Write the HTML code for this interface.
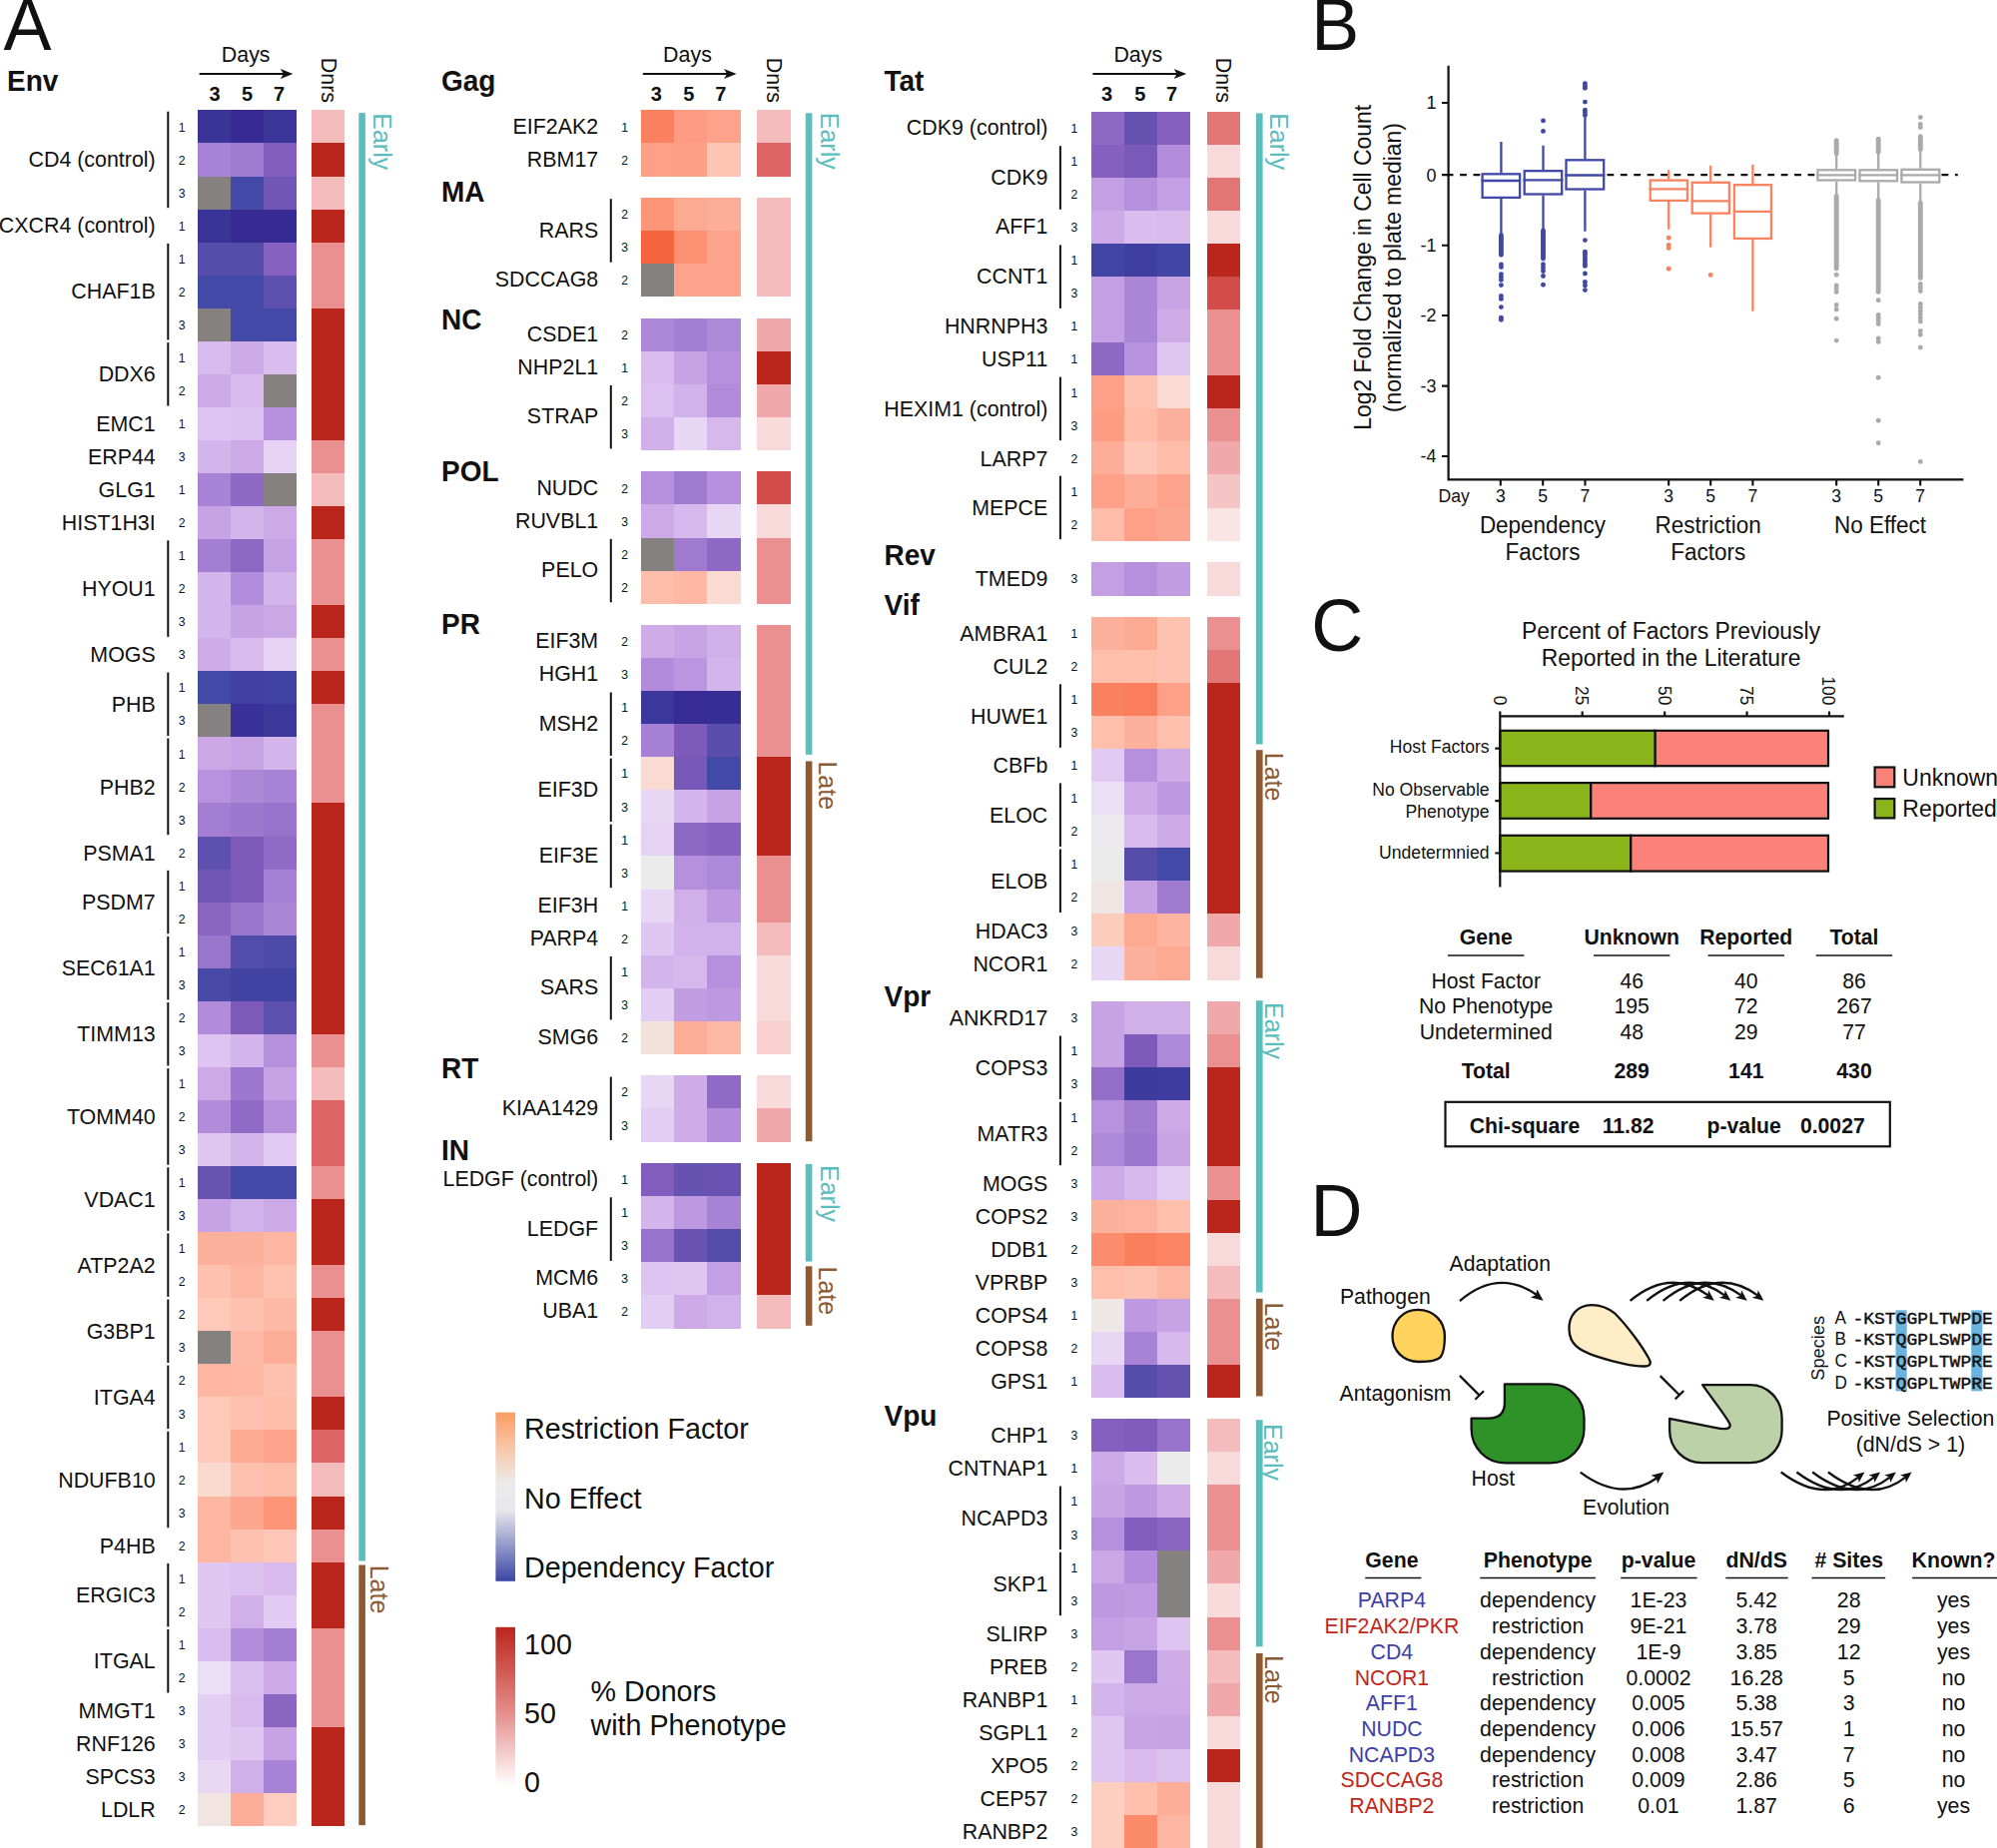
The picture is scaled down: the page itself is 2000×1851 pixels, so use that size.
<!DOCTYPE html>
<html><head><meta charset="utf-8"><title>Figure</title>
<style>
html,body{margin:0;padding:0;background:#fff}
body{width:2000px;height:1851px;overflow:hidden}
svg{display:block;font-family:"Liberation Sans",Arial,Helvetica,sans-serif;fill:#111}
svg text{fill:#111}
</style></head><body>
<svg width="2000" height="1851" viewBox="0 0 2000 1851">
<rect width="2000" height="1851" fill="#fff"/>
<text transform="matrix(1 0 0 1.035 0 -1.75)" x="3.5" y="50.0" font-size="72">A</text>
<text transform="matrix(1 0 0 1.035 0 -3.20)" x="7.0" y="91.4" font-size="28" font-weight="bold">Env</text>
<text transform="matrix(1 0 0 1.035 0 -5.83)" x="155.7" y="166.6" font-size="21.4" text-anchor="end">CD4 (control)</text>
<path d="M168.3 111.7V208.2" stroke="#111" stroke-width="2" fill="none"/>
<text transform="matrix(1 0 0 1.035 0 -4.61)" x="182.2" y="131.6" font-size="12.2" text-anchor="middle">1</text>
<text transform="matrix(1 0 0 1.035 0 -5.76)" x="182.2" y="164.7" font-size="12.2" text-anchor="middle">2</text>
<text transform="matrix(1 0 0 1.035 0 -6.92)" x="182.2" y="197.7" font-size="12.2" text-anchor="middle">3</text>
<text transform="matrix(1 0 0 1.035 0 -8.16)" x="155.7" y="233.0" font-size="21.4" text-anchor="end">CXCR4 (control)</text>
<text transform="matrix(1 0 0 1.035 0 -8.08)" x="182.2" y="230.8" font-size="12.2" text-anchor="middle">1</text>
<text transform="matrix(1 0 0 1.035 0 -10.48)" x="155.7" y="299.5" font-size="21.4" text-anchor="end">CHAF1B</text>
<path d="M168.3 243.9V340.4" stroke="#111" stroke-width="2" fill="none"/>
<text transform="matrix(1 0 0 1.035 0 -9.23)" x="182.2" y="263.8" font-size="12.2" text-anchor="middle">1</text>
<text transform="matrix(1 0 0 1.035 0 -10.39)" x="182.2" y="296.9" font-size="12.2" text-anchor="middle">2</text>
<text transform="matrix(1 0 0 1.035 0 -11.55)" x="182.2" y="329.9" font-size="12.2" text-anchor="middle">3</text>
<text transform="matrix(1 0 0 1.035 0 -13.39)" x="155.7" y="382.5" font-size="21.4" text-anchor="end">DDX6</text>
<path d="M168.3 343.1V406.6" stroke="#111" stroke-width="2" fill="none"/>
<text transform="matrix(1 0 0 1.035 0 -12.70)" x="182.2" y="363.0" font-size="12.2" text-anchor="middle">1</text>
<text transform="matrix(1 0 0 1.035 0 -13.86)" x="182.2" y="396.0" font-size="12.2" text-anchor="middle">2</text>
<text transform="matrix(1 0 0 1.035 0 -15.12)" x="155.7" y="432.1" font-size="21.4" text-anchor="end">EMC1</text>
<text transform="matrix(1 0 0 1.035 0 -15.02)" x="182.2" y="429.1" font-size="12.2" text-anchor="middle">1</text>
<text transform="matrix(1 0 0 1.035 0 -16.28)" x="155.7" y="465.1" font-size="21.4" text-anchor="end">ERP44</text>
<text transform="matrix(1 0 0 1.035 0 -16.17)" x="182.2" y="462.1" font-size="12.2" text-anchor="middle">3</text>
<text transform="matrix(1 0 0 1.035 0 -17.44)" x="155.7" y="498.2" font-size="21.4" text-anchor="end">GLG1</text>
<text transform="matrix(1 0 0 1.035 0 -17.33)" x="182.2" y="495.2" font-size="12.2" text-anchor="middle">1</text>
<text transform="matrix(1 0 0 1.035 0 -18.59)" x="155.7" y="531.2" font-size="21.4" text-anchor="end">HIST1H3I</text>
<text transform="matrix(1 0 0 1.035 0 -18.49)" x="182.2" y="528.2" font-size="12.2" text-anchor="middle">2</text>
<text transform="matrix(1 0 0 1.035 0 -20.91)" x="155.7" y="597.3" font-size="21.4" text-anchor="end">HYOU1</text>
<path d="M168.3 541.3V637.9" stroke="#111" stroke-width="2" fill="none"/>
<text transform="matrix(1 0 0 1.035 0 -19.64)" x="182.2" y="561.3" font-size="12.2" text-anchor="middle">1</text>
<text transform="matrix(1 0 0 1.035 0 -20.80)" x="182.2" y="594.3" font-size="12.2" text-anchor="middle">2</text>
<text transform="matrix(1 0 0 1.035 0 -21.96)" x="182.2" y="627.4" font-size="12.2" text-anchor="middle">3</text>
<text transform="matrix(1 0 0 1.035 0 -23.22)" x="155.7" y="663.4" font-size="21.4" text-anchor="end">MOGS</text>
<text transform="matrix(1 0 0 1.035 0 -23.11)" x="182.2" y="660.4" font-size="12.2" text-anchor="middle">3</text>
<text transform="matrix(1 0 0 1.035 0 -24.95)" x="155.7" y="713.0" font-size="21.4" text-anchor="end">PHB</text>
<path d="M168.3 673.5V737.0" stroke="#111" stroke-width="2" fill="none"/>
<text transform="matrix(1 0 0 1.035 0 -24.27)" x="182.2" y="693.5" font-size="12.2" text-anchor="middle">1</text>
<text transform="matrix(1 0 0 1.035 0 -25.43)" x="182.2" y="726.5" font-size="12.2" text-anchor="middle">3</text>
<text transform="matrix(1 0 0 1.035 0 -27.85)" x="155.7" y="795.6" font-size="21.4" text-anchor="end">PHB2</text>
<path d="M168.3 739.6V836.2" stroke="#111" stroke-width="2" fill="none"/>
<text transform="matrix(1 0 0 1.035 0 -26.59)" x="182.2" y="759.6" font-size="12.2" text-anchor="middle">1</text>
<text transform="matrix(1 0 0 1.035 0 -27.74)" x="182.2" y="792.6" font-size="12.2" text-anchor="middle">2</text>
<text transform="matrix(1 0 0 1.035 0 -28.90)" x="182.2" y="825.7" font-size="12.2" text-anchor="middle">3</text>
<text transform="matrix(1 0 0 1.035 0 -30.16)" x="155.7" y="861.7" font-size="21.4" text-anchor="end">PSMA1</text>
<text transform="matrix(1 0 0 1.035 0 -30.06)" x="182.2" y="858.7" font-size="12.2" text-anchor="middle">2</text>
<text transform="matrix(1 0 0 1.035 0 -31.90)" x="155.7" y="911.3" font-size="21.4" text-anchor="end">PSDM7</text>
<path d="M168.3 871.8V935.3" stroke="#111" stroke-width="2" fill="none"/>
<text transform="matrix(1 0 0 1.035 0 -31.21)" x="182.2" y="891.8" font-size="12.2" text-anchor="middle">1</text>
<text transform="matrix(1 0 0 1.035 0 -32.37)" x="182.2" y="924.8" font-size="12.2" text-anchor="middle">2</text>
<text transform="matrix(1 0 0 1.035 0 -34.21)" x="155.7" y="977.4" font-size="21.4" text-anchor="end">SEC61A1</text>
<path d="M168.3 937.9V1001.4" stroke="#111" stroke-width="2" fill="none"/>
<text transform="matrix(1 0 0 1.035 0 -33.53)" x="182.2" y="957.9" font-size="12.2" text-anchor="middle">1</text>
<text transform="matrix(1 0 0 1.035 0 -34.68)" x="182.2" y="990.9" font-size="12.2" text-anchor="middle">3</text>
<text transform="matrix(1 0 0 1.035 0 -36.52)" x="155.7" y="1043.5" font-size="21.4" text-anchor="end">TIMM13</text>
<path d="M168.3 1004.0V1067.5" stroke="#111" stroke-width="2" fill="none"/>
<text transform="matrix(1 0 0 1.035 0 -35.84)" x="182.2" y="1024.0" font-size="12.2" text-anchor="middle">2</text>
<text transform="matrix(1 0 0 1.035 0 -37.00)" x="182.2" y="1057.0" font-size="12.2" text-anchor="middle">3</text>
<text transform="matrix(1 0 0 1.035 0 -39.41)" x="155.7" y="1126.1" font-size="21.4" text-anchor="end">TOMM40</text>
<path d="M168.3 1070.1V1166.7" stroke="#111" stroke-width="2" fill="none"/>
<text transform="matrix(1 0 0 1.035 0 -38.15)" x="182.2" y="1090.1" font-size="12.2" text-anchor="middle">1</text>
<text transform="matrix(1 0 0 1.035 0 -39.31)" x="182.2" y="1123.1" font-size="12.2" text-anchor="middle">2</text>
<text transform="matrix(1 0 0 1.035 0 -40.47)" x="182.2" y="1156.2" font-size="12.2" text-anchor="middle">3</text>
<text transform="matrix(1 0 0 1.035 0 -42.31)" x="155.7" y="1208.8" font-size="21.4" text-anchor="end">VDAC1</text>
<path d="M168.3 1169.3V1232.8" stroke="#111" stroke-width="2" fill="none"/>
<text transform="matrix(1 0 0 1.035 0 -41.62)" x="182.2" y="1189.2" font-size="12.2" text-anchor="middle">1</text>
<text transform="matrix(1 0 0 1.035 0 -42.78)" x="182.2" y="1222.3" font-size="12.2" text-anchor="middle">3</text>
<text transform="matrix(1 0 0 1.035 0 -44.62)" x="155.7" y="1274.9" font-size="21.4" text-anchor="end">ATP2A2</text>
<path d="M168.3 1235.4V1298.9" stroke="#111" stroke-width="2" fill="none"/>
<text transform="matrix(1 0 0 1.035 0 -43.94)" x="182.2" y="1255.3" font-size="12.2" text-anchor="middle">1</text>
<text transform="matrix(1 0 0 1.035 0 -45.09)" x="182.2" y="1288.4" font-size="12.2" text-anchor="middle">2</text>
<text transform="matrix(1 0 0 1.035 0 -46.93)" x="155.7" y="1341.0" font-size="21.4" text-anchor="end">G3BP1</text>
<path d="M168.3 1301.5V1365.0" stroke="#111" stroke-width="2" fill="none"/>
<text transform="matrix(1 0 0 1.035 0 -46.25)" x="182.2" y="1321.4" font-size="12.2" text-anchor="middle">2</text>
<text transform="matrix(1 0 0 1.035 0 -47.41)" x="182.2" y="1354.5" font-size="12.2" text-anchor="middle">3</text>
<text transform="matrix(1 0 0 1.035 0 -49.25)" x="155.7" y="1407.0" font-size="21.4" text-anchor="end">ITGA4</text>
<path d="M168.3 1367.6V1431.1" stroke="#111" stroke-width="2" fill="none"/>
<text transform="matrix(1 0 0 1.035 0 -48.56)" x="182.2" y="1387.5" font-size="12.2" text-anchor="middle">2</text>
<text transform="matrix(1 0 0 1.035 0 -49.72)" x="182.2" y="1420.6" font-size="12.2" text-anchor="middle">3</text>
<text transform="matrix(1 0 0 1.035 0 -52.14)" x="155.7" y="1489.7" font-size="21.4" text-anchor="end">NDUFB10</text>
<path d="M168.3 1433.7V1530.2" stroke="#111" stroke-width="2" fill="none"/>
<text transform="matrix(1 0 0 1.035 0 -50.88)" x="182.2" y="1453.6" font-size="12.2" text-anchor="middle">1</text>
<text transform="matrix(1 0 0 1.035 0 -52.03)" x="182.2" y="1486.7" font-size="12.2" text-anchor="middle">2</text>
<text transform="matrix(1 0 0 1.035 0 -53.19)" x="182.2" y="1519.7" font-size="12.2" text-anchor="middle">3</text>
<text transform="matrix(1 0 0 1.035 0 -54.45)" x="155.7" y="1555.8" font-size="21.4" text-anchor="end">P4HB</text>
<text transform="matrix(1 0 0 1.035 0 -54.35)" x="182.2" y="1552.8" font-size="12.2" text-anchor="middle">2</text>
<text transform="matrix(1 0 0 1.035 0 -56.19)" x="155.7" y="1605.4" font-size="21.4" text-anchor="end">ERGIC3</text>
<path d="M168.3 1565.9V1629.4" stroke="#111" stroke-width="2" fill="none"/>
<text transform="matrix(1 0 0 1.035 0 -55.50)" x="182.2" y="1585.8" font-size="12.2" text-anchor="middle">1</text>
<text transform="matrix(1 0 0 1.035 0 -56.66)" x="182.2" y="1618.9" font-size="12.2" text-anchor="middle">2</text>
<text transform="matrix(1 0 0 1.035 0 -58.50)" x="155.7" y="1671.5" font-size="21.4" text-anchor="end">ITGAL</text>
<path d="M168.3 1632.0V1695.5" stroke="#111" stroke-width="2" fill="none"/>
<text transform="matrix(1 0 0 1.035 0 -57.82)" x="182.2" y="1651.9" font-size="12.2" text-anchor="middle">1</text>
<text transform="matrix(1 0 0 1.035 0 -58.97)" x="182.2" y="1685.0" font-size="12.2" text-anchor="middle">2</text>
<text transform="matrix(1 0 0 1.035 0 -60.24)" x="155.7" y="1721.0" font-size="21.4" text-anchor="end">MMGT1</text>
<text transform="matrix(1 0 0 1.035 0 -60.13)" x="182.2" y="1718.0" font-size="12.2" text-anchor="middle">3</text>
<text transform="matrix(1 0 0 1.035 0 -61.39)" x="155.7" y="1754.1" font-size="21.4" text-anchor="end">RNF126</text>
<text transform="matrix(1 0 0 1.035 0 -61.29)" x="182.2" y="1751.1" font-size="12.2" text-anchor="middle">3</text>
<text transform="matrix(1 0 0 1.035 0 -62.55)" x="155.7" y="1787.1" font-size="21.4" text-anchor="end">SPCS3</text>
<text transform="matrix(1 0 0 1.035 0 -62.44)" x="182.2" y="1784.1" font-size="12.2" text-anchor="middle">3</text>
<text transform="matrix(1 0 0 1.035 0 -63.71)" x="155.7" y="1820.2" font-size="21.4" text-anchor="end">LDLR</text>
<text transform="matrix(1 0 0 1.035 0 -63.60)" x="182.2" y="1817.2" font-size="12.2" text-anchor="middle">2</text>
<g shape-rendering="crispEdges"><rect x="197.80" y="110.40" width="33.33" height="33.35" fill="#3a3398"/><rect x="230.83" y="110.40" width="33.33" height="33.35" fill="#372a92"/><rect x="263.86" y="110.40" width="33.33" height="33.35" fill="#3b3499"/><rect x="311.80" y="110.40" width="33.30" height="33.35" fill="#f4bcbc"/><rect x="197.80" y="143.45" width="33.33" height="33.35" fill="#a882d5"/><rect x="230.83" y="143.45" width="33.33" height="33.35" fill="#9f7acf"/><rect x="263.86" y="143.45" width="33.33" height="33.35" fill="#835dbd"/><rect x="311.80" y="143.45" width="33.30" height="33.35" fill="#bb261c"/><rect x="197.80" y="176.50" width="33.33" height="33.35" fill="#858181"/><rect x="230.83" y="176.50" width="33.33" height="33.35" fill="#4349a6"/><rect x="263.86" y="176.50" width="33.33" height="33.35" fill="#7056b5"/><rect x="311.80" y="176.50" width="33.30" height="33.35" fill="#f4bcbc"/><rect x="197.80" y="209.55" width="33.33" height="33.35" fill="#3a3398"/><rect x="230.83" y="209.55" width="33.33" height="33.35" fill="#372a92"/><rect x="263.86" y="209.55" width="33.33" height="33.35" fill="#372a92"/><rect x="311.80" y="209.55" width="33.30" height="33.35" fill="#bb261c"/><rect x="197.80" y="242.60" width="33.33" height="33.35" fill="#564dab"/><rect x="230.83" y="242.60" width="33.33" height="33.35" fill="#544daa"/><rect x="263.86" y="242.60" width="33.33" height="33.35" fill="#8862c0"/><rect x="311.80" y="242.60" width="33.30" height="33.35" fill="#ea9090"/><rect x="197.80" y="275.65" width="33.33" height="33.35" fill="#4349a6"/><rect x="230.83" y="275.65" width="33.33" height="33.35" fill="#4349a6"/><rect x="263.86" y="275.65" width="33.33" height="33.35" fill="#5e50ae"/><rect x="311.80" y="275.65" width="33.30" height="33.35" fill="#ea9090"/><rect x="197.80" y="308.70" width="33.33" height="33.35" fill="#858181"/><rect x="230.83" y="308.70" width="33.33" height="33.35" fill="#4349a6"/><rect x="263.86" y="308.70" width="33.33" height="33.35" fill="#4349a6"/><rect x="311.80" y="308.70" width="33.30" height="33.35" fill="#bb261c"/><rect x="197.80" y="341.75" width="33.33" height="33.35" fill="#d8baed"/><rect x="230.83" y="341.75" width="33.33" height="33.35" fill="#cdaae7"/><rect x="263.86" y="341.75" width="33.33" height="33.35" fill="#dabdee"/><rect x="311.80" y="341.75" width="33.30" height="33.35" fill="#bb261c"/><rect x="197.80" y="374.80" width="33.33" height="33.35" fill="#cdaae7"/><rect x="230.83" y="374.80" width="33.33" height="33.35" fill="#d8baed"/><rect x="263.86" y="374.80" width="33.33" height="33.35" fill="#858181"/><rect x="311.80" y="374.80" width="33.30" height="33.35" fill="#bb261c"/><rect x="197.80" y="407.85" width="33.33" height="33.35" fill="#dec4f0"/><rect x="230.83" y="407.85" width="33.33" height="33.35" fill="#dcc0ef"/><rect x="263.86" y="407.85" width="33.33" height="33.35" fill="#b68fdd"/><rect x="311.80" y="407.85" width="33.30" height="33.35" fill="#bb261c"/><rect x="197.80" y="440.90" width="33.33" height="33.35" fill="#d4b5eb"/><rect x="230.83" y="440.90" width="33.33" height="33.35" fill="#cdaae7"/><rect x="263.86" y="440.90" width="33.33" height="33.35" fill="#e5d2f4"/><rect x="311.80" y="440.90" width="33.30" height="33.35" fill="#ea9090"/><rect x="197.80" y="473.95" width="33.33" height="33.35" fill="#a882d5"/><rect x="230.83" y="473.95" width="33.33" height="33.35" fill="#8d68c4"/><rect x="263.86" y="473.95" width="33.33" height="33.35" fill="#858181"/><rect x="311.80" y="473.95" width="33.30" height="33.35" fill="#f4bcbc"/><rect x="197.80" y="507.00" width="33.33" height="33.35" fill="#c7a2e4"/><rect x="230.83" y="507.00" width="33.33" height="33.35" fill="#d4b5eb"/><rect x="263.86" y="507.00" width="33.33" height="33.35" fill="#cdaae7"/><rect x="311.80" y="507.00" width="33.30" height="33.35" fill="#bb261c"/><rect x="197.80" y="540.05" width="33.33" height="33.35" fill="#a47ed2"/><rect x="230.83" y="540.05" width="33.33" height="33.35" fill="#8d68c4"/><rect x="263.86" y="540.05" width="33.33" height="33.35" fill="#c7a2e4"/><rect x="311.80" y="540.05" width="33.30" height="33.35" fill="#ea9090"/><rect x="197.80" y="573.10" width="33.33" height="33.35" fill="#d4b5eb"/><rect x="230.83" y="573.10" width="33.33" height="33.35" fill="#b48ddc"/><rect x="263.86" y="573.10" width="33.33" height="33.35" fill="#d4b5eb"/><rect x="311.80" y="573.10" width="33.30" height="33.35" fill="#ea9090"/><rect x="197.80" y="606.15" width="33.33" height="33.35" fill="#d4b5eb"/><rect x="230.83" y="606.15" width="33.33" height="33.35" fill="#c7a2e4"/><rect x="263.86" y="606.15" width="33.33" height="33.35" fill="#cba7e6"/><rect x="311.80" y="606.15" width="33.30" height="33.35" fill="#bb261c"/><rect x="197.80" y="639.20" width="33.33" height="33.35" fill="#cface8"/><rect x="230.83" y="639.20" width="33.33" height="33.35" fill="#d8baed"/><rect x="263.86" y="639.20" width="33.33" height="33.35" fill="#e5d2f4"/><rect x="311.80" y="639.20" width="33.30" height="33.35" fill="#ea9090"/><rect x="197.80" y="672.25" width="33.33" height="33.35" fill="#4349a6"/><rect x="230.83" y="672.25" width="33.33" height="33.35" fill="#4041a1"/><rect x="263.86" y="672.25" width="33.33" height="33.35" fill="#4143a2"/><rect x="311.80" y="672.25" width="33.30" height="33.35" fill="#bb261c"/><rect x="197.80" y="705.30" width="33.33" height="33.35" fill="#858181"/><rect x="230.83" y="705.30" width="33.33" height="33.35" fill="#3a3298"/><rect x="263.86" y="705.30" width="33.33" height="33.35" fill="#3c379b"/><rect x="311.80" y="705.30" width="33.30" height="33.35" fill="#ea9090"/><rect x="197.80" y="738.35" width="33.33" height="33.35" fill="#cba7e6"/><rect x="230.83" y="738.35" width="33.33" height="33.35" fill="#c9a4e5"/><rect x="263.86" y="738.35" width="33.33" height="33.35" fill="#d4b5eb"/><rect x="311.80" y="738.35" width="33.30" height="33.35" fill="#ea9090"/><rect x="197.80" y="771.40" width="33.33" height="33.35" fill="#b892de"/><rect x="230.83" y="771.40" width="33.33" height="33.35" fill="#ad87d8"/><rect x="263.86" y="771.40" width="33.33" height="33.35" fill="#a882d5"/><rect x="311.80" y="771.40" width="33.30" height="33.35" fill="#ea9090"/><rect x="197.80" y="804.45" width="33.33" height="33.35" fill="#a47ed2"/><rect x="230.83" y="804.45" width="33.33" height="33.35" fill="#9d78ce"/><rect x="263.86" y="804.45" width="33.33" height="33.35" fill="#9873cb"/><rect x="311.80" y="804.45" width="33.30" height="33.35" fill="#bb261c"/><rect x="197.80" y="837.50" width="33.33" height="33.35" fill="#5e50ae"/><rect x="230.83" y="837.50" width="33.33" height="33.35" fill="#7e5bbb"/><rect x="263.86" y="837.50" width="33.33" height="33.35" fill="#906ac6"/><rect x="311.80" y="837.50" width="33.30" height="33.35" fill="#bb261c"/><rect x="197.80" y="870.55" width="33.33" height="33.35" fill="#7056b5"/><rect x="230.83" y="870.55" width="33.33" height="33.35" fill="#7e5bbb"/><rect x="263.86" y="870.55" width="33.33" height="33.35" fill="#a680d4"/><rect x="311.80" y="870.55" width="33.30" height="33.35" fill="#bb261c"/><rect x="197.80" y="903.60" width="33.33" height="33.35" fill="#8b65c2"/><rect x="230.83" y="903.60" width="33.33" height="33.35" fill="#9a75cc"/><rect x="263.86" y="903.60" width="33.33" height="33.35" fill="#ab85d6"/><rect x="311.80" y="903.60" width="33.30" height="33.35" fill="#bb261c"/><rect x="197.80" y="936.65" width="33.33" height="33.35" fill="#9a75cc"/><rect x="230.83" y="936.65" width="33.33" height="33.35" fill="#524caa"/><rect x="263.86" y="936.65" width="33.33" height="33.35" fill="#4c4ba8"/><rect x="311.80" y="936.65" width="33.30" height="33.35" fill="#bb261c"/><rect x="197.80" y="969.70" width="33.33" height="33.35" fill="#494aa8"/><rect x="230.83" y="969.70" width="33.33" height="33.35" fill="#4143a2"/><rect x="263.86" y="969.70" width="33.33" height="33.35" fill="#4143a2"/><rect x="311.80" y="969.70" width="33.30" height="33.35" fill="#bb261c"/><rect x="197.80" y="1002.75" width="33.33" height="33.35" fill="#b28bdb"/><rect x="230.83" y="1002.75" width="33.33" height="33.35" fill="#7e5bbb"/><rect x="263.86" y="1002.75" width="33.33" height="33.35" fill="#5c4fad"/><rect x="311.80" y="1002.75" width="33.30" height="33.35" fill="#bb261c"/><rect x="197.80" y="1035.80" width="33.33" height="33.35" fill="#dec4f0"/><rect x="230.83" y="1035.80" width="33.33" height="33.35" fill="#d4b5eb"/><rect x="263.86" y="1035.80" width="33.33" height="33.35" fill="#b68fdd"/><rect x="311.80" y="1035.80" width="33.30" height="33.35" fill="#ea9090"/><rect x="197.80" y="1068.85" width="33.33" height="33.35" fill="#cdaae7"/><rect x="230.83" y="1068.85" width="33.33" height="33.35" fill="#9d78ce"/><rect x="263.86" y="1068.85" width="33.33" height="33.35" fill="#c7a2e4"/><rect x="311.80" y="1068.85" width="33.30" height="33.35" fill="#f4bcbc"/><rect x="197.80" y="1101.90" width="33.33" height="33.35" fill="#b28bdb"/><rect x="230.83" y="1101.90" width="33.33" height="33.35" fill="#906ac6"/><rect x="263.86" y="1101.90" width="33.33" height="33.35" fill="#b68fdd"/><rect x="311.80" y="1101.90" width="33.30" height="33.35" fill="#dd6464"/><rect x="197.80" y="1134.95" width="33.33" height="33.35" fill="#e0c7f1"/><rect x="230.83" y="1134.95" width="33.33" height="33.35" fill="#d4b5eb"/><rect x="263.86" y="1134.95" width="33.33" height="33.35" fill="#e1cbf2"/><rect x="311.80" y="1134.95" width="33.30" height="33.35" fill="#dd6464"/><rect x="197.80" y="1168.00" width="33.33" height="33.35" fill="#6753b1"/><rect x="230.83" y="1168.00" width="33.33" height="33.35" fill="#4349a6"/><rect x="263.86" y="1168.00" width="33.33" height="33.35" fill="#4349a6"/><rect x="311.80" y="1168.00" width="33.30" height="33.35" fill="#ea9090"/><rect x="197.80" y="1201.05" width="33.33" height="33.35" fill="#c7a2e4"/><rect x="230.83" y="1201.05" width="33.33" height="33.35" fill="#d2b2ea"/><rect x="263.86" y="1201.05" width="33.33" height="33.35" fill="#cdaae7"/><rect x="311.80" y="1201.05" width="33.30" height="33.35" fill="#bb261c"/><rect x="197.80" y="1234.10" width="33.33" height="33.35" fill="#fdb09b"/><rect x="230.83" y="1234.10" width="33.33" height="33.35" fill="#fdb09b"/><rect x="263.86" y="1234.10" width="33.33" height="33.35" fill="#fdb6a2"/><rect x="311.80" y="1234.10" width="33.30" height="33.35" fill="#bb261c"/><rect x="197.80" y="1267.15" width="33.33" height="33.35" fill="#fec1af"/><rect x="230.83" y="1267.15" width="33.33" height="33.35" fill="#fdb6a2"/><rect x="263.86" y="1267.15" width="33.33" height="33.35" fill="#fec2b1"/><rect x="311.80" y="1267.15" width="33.30" height="33.35" fill="#ea9090"/><rect x="197.80" y="1300.20" width="33.33" height="33.35" fill="#fec9b9"/><rect x="230.83" y="1300.20" width="33.33" height="33.35" fill="#fec1af"/><rect x="263.86" y="1300.20" width="33.33" height="33.35" fill="#feb9a6"/><rect x="311.80" y="1300.20" width="33.30" height="33.35" fill="#bb261c"/><rect x="197.80" y="1333.25" width="33.33" height="33.35" fill="#858181"/><rect x="230.83" y="1333.25" width="33.33" height="33.35" fill="#feb9a6"/><rect x="263.86" y="1333.25" width="33.33" height="33.35" fill="#fdac96"/><rect x="311.80" y="1333.25" width="33.30" height="33.35" fill="#ea9090"/><rect x="197.80" y="1366.30" width="33.33" height="33.35" fill="#fdb6a2"/><rect x="230.83" y="1366.30" width="33.33" height="33.35" fill="#feb8a4"/><rect x="263.86" y="1366.30" width="33.33" height="33.35" fill="#fec1af"/><rect x="311.80" y="1366.30" width="33.30" height="33.35" fill="#ea9090"/><rect x="197.80" y="1399.35" width="33.33" height="33.35" fill="#fec9b9"/><rect x="230.83" y="1399.35" width="33.33" height="33.35" fill="#fec1af"/><rect x="263.86" y="1399.35" width="33.33" height="33.35" fill="#febeab"/><rect x="311.80" y="1399.35" width="33.30" height="33.35" fill="#bb261c"/><rect x="197.80" y="1432.40" width="33.33" height="33.35" fill="#fec9b9"/><rect x="230.83" y="1432.40" width="33.33" height="33.35" fill="#fdaa93"/><rect x="263.86" y="1432.40" width="33.33" height="33.35" fill="#fda38b"/><rect x="311.80" y="1432.40" width="33.30" height="33.35" fill="#dd6464"/><rect x="197.80" y="1465.45" width="33.33" height="33.35" fill="#fad9cf"/><rect x="230.83" y="1465.45" width="33.33" height="33.35" fill="#fec1af"/><rect x="263.86" y="1465.45" width="33.33" height="33.35" fill="#febeab"/><rect x="311.80" y="1465.45" width="33.30" height="33.35" fill="#f4bcbc"/><rect x="197.80" y="1498.50" width="33.33" height="33.35" fill="#fdb6a2"/><rect x="230.83" y="1498.50" width="33.33" height="33.35" fill="#fda790"/><rect x="263.86" y="1498.50" width="33.33" height="33.35" fill="#fd9579"/><rect x="311.80" y="1498.50" width="33.30" height="33.35" fill="#bb261c"/><rect x="197.80" y="1531.55" width="33.33" height="33.35" fill="#fdb6a2"/><rect x="230.83" y="1531.55" width="33.33" height="33.35" fill="#fec1af"/><rect x="263.86" y="1531.55" width="33.33" height="33.35" fill="#fec7b7"/><rect x="311.80" y="1531.55" width="33.30" height="33.35" fill="#ea9090"/><rect x="197.80" y="1564.60" width="33.33" height="33.35" fill="#e0c7f1"/><rect x="230.83" y="1564.60" width="33.33" height="33.35" fill="#dcc0ef"/><rect x="263.86" y="1564.60" width="33.33" height="33.35" fill="#d8baed"/><rect x="311.80" y="1564.60" width="33.30" height="33.35" fill="#bb261c"/><rect x="197.80" y="1597.65" width="33.33" height="33.35" fill="#e0c7f1"/><rect x="230.83" y="1597.65" width="33.33" height="33.35" fill="#d1afe9"/><rect x="263.86" y="1597.65" width="33.33" height="33.35" fill="#e1cbf2"/><rect x="311.80" y="1597.65" width="33.30" height="33.35" fill="#bb261c"/><rect x="197.80" y="1630.70" width="33.33" height="33.35" fill="#dabdee"/><rect x="230.83" y="1630.70" width="33.33" height="33.35" fill="#b48ddc"/><rect x="263.86" y="1630.70" width="33.33" height="33.35" fill="#a47ed2"/><rect x="311.80" y="1630.70" width="33.30" height="33.35" fill="#ea9090"/><rect x="197.80" y="1663.75" width="33.33" height="33.35" fill="#eadff5"/><rect x="230.83" y="1663.75" width="33.33" height="33.35" fill="#dbbfee"/><rect x="263.86" y="1663.75" width="33.33" height="33.35" fill="#cdaae7"/><rect x="311.80" y="1663.75" width="33.30" height="33.35" fill="#ea9090"/><rect x="197.80" y="1696.80" width="33.33" height="33.35" fill="#e3cef3"/><rect x="230.83" y="1696.80" width="33.33" height="33.35" fill="#d8baed"/><rect x="263.86" y="1696.80" width="33.33" height="33.35" fill="#8b65c2"/><rect x="311.80" y="1696.80" width="33.30" height="33.35" fill="#ea9090"/><rect x="197.80" y="1729.85" width="33.33" height="33.35" fill="#e3cef3"/><rect x="230.83" y="1729.85" width="33.33" height="33.35" fill="#e0c7f1"/><rect x="263.86" y="1729.85" width="33.33" height="33.35" fill="#c7a2e4"/><rect x="311.80" y="1729.85" width="33.30" height="33.35" fill="#bb261c"/><rect x="197.80" y="1762.90" width="33.33" height="33.35" fill="#e8d8f4"/><rect x="230.83" y="1762.90" width="33.33" height="33.35" fill="#d1afe9"/><rect x="263.86" y="1762.90" width="33.33" height="33.35" fill="#a882d5"/><rect x="311.80" y="1762.90" width="33.30" height="33.35" fill="#bb261c"/><rect x="197.80" y="1795.95" width="33.33" height="33.35" fill="#f1e4e1"/><rect x="230.83" y="1795.95" width="33.33" height="33.35" fill="#fdad98"/><rect x="263.86" y="1795.95" width="33.33" height="33.35" fill="#fecdbf"/><rect x="311.80" y="1795.95" width="33.30" height="33.35" fill="#bb261c"/></g>
<text transform="matrix(1 0 0 1.035 0 -2.17)" x="246.2" y="62.0" font-size="21.4" text-anchor="middle">Days</text>
<path d="M199.6 74H285.4" stroke="#111" stroke-width="1.9" fill="none"/>
<path d="M293.4 74L280.8 68.9L284.0 74L280.8 79.1Z" fill="#111"/>
<text transform="matrix(1 0 0 1.035 0 -3.53)" x="215.0" y="100.8" font-size="20" font-weight="bold" text-anchor="middle">3</text>
<text transform="matrix(1 0 0 1.035 0 -3.53)" x="247.6" y="100.8" font-size="20" font-weight="bold" text-anchor="middle">5</text>
<text transform="matrix(1 0 0 1.035 0 -3.53)" x="279.5" y="100.8" font-size="20" font-weight="bold" text-anchor="middle">7</text>
<text transform="translate(321.7 57.8) rotate(90) scale(1 1.07)" font-size="21.4" style="fill:#111">Dnrs</text>
<rect x="359.3" y="113.1" width="6.6" height="1450.4" fill="#5bbdbd"/>
<text transform="translate(373.8 113.3) rotate(90) scale(1 1.03)" font-size="25" style="fill:#5bbdbd">Early</text>
<rect x="359.3" y="1567.5" width="6.6" height="260.7" fill="#8b5a33"/>
<text transform="translate(371.0 1567.7) rotate(90) scale(1 1.03)" font-size="25" style="fill:#8b5a33">Late</text>
<text transform="matrix(1 0 0 1.035 0 -3.20)" x="442.0" y="91.4" font-size="28" font-weight="bold">Gag</text>
<text transform="matrix(1 0 0 1.035 0 -4.68)" x="599.2" y="133.7" font-size="21.4" text-anchor="end">EIF2AK2</text>
<text transform="matrix(1 0 0 1.035 0 -4.61)" x="625.7" y="131.6" font-size="12.2" text-anchor="middle">1</text>
<text transform="matrix(1 0 0 1.035 0 -5.84)" x="599.2" y="166.8" font-size="21.4" text-anchor="end">RBM17</text>
<text transform="matrix(1 0 0 1.035 0 -5.76)" x="625.7" y="164.7" font-size="12.2" text-anchor="middle">2</text>
<text transform="matrix(1 0 0 1.035 0 -7.08)" x="442.0" y="202.3" font-size="28" font-weight="bold">MA</text>
<text transform="matrix(1 0 0 1.035 0 -8.32)" x="599.2" y="237.8" font-size="21.4" text-anchor="end">RARS</text>
<path d="M611.8 199.2V262.7" stroke="#111" stroke-width="2" fill="none"/>
<text transform="matrix(1 0 0 1.035 0 -7.67)" x="625.7" y="219.2" font-size="12.2" text-anchor="middle">2</text>
<text transform="matrix(1 0 0 1.035 0 -8.83)" x="625.7" y="252.2" font-size="12.2" text-anchor="middle">3</text>
<text transform="matrix(1 0 0 1.035 0 -10.06)" x="599.2" y="287.4" font-size="21.4" text-anchor="end">SDCCAG8</text>
<text transform="matrix(1 0 0 1.035 0 -9.98)" x="625.7" y="285.3" font-size="12.2" text-anchor="middle">2</text>
<text transform="matrix(1 0 0 1.035 0 -11.55)" x="442.0" y="330.0" font-size="28" font-weight="bold">NC</text>
<text transform="matrix(1 0 0 1.035 0 -11.97)" x="599.2" y="341.9" font-size="21.4" text-anchor="end">CSDE1</text>
<text transform="matrix(1 0 0 1.035 0 -11.89)" x="625.7" y="339.8" font-size="12.2" text-anchor="middle">2</text>
<text transform="matrix(1 0 0 1.035 0 -13.12)" x="599.2" y="374.9" font-size="21.4" text-anchor="end">NHP2L1</text>
<text transform="matrix(1 0 0 1.035 0 -13.05)" x="625.7" y="372.8" font-size="12.2" text-anchor="middle">1</text>
<text transform="matrix(1 0 0 1.035 0 -14.86)" x="599.2" y="424.5" font-size="21.4" text-anchor="end">STRAP</text>
<path d="M611.8 385.9V449.4" stroke="#111" stroke-width="2" fill="none"/>
<text transform="matrix(1 0 0 1.035 0 -14.21)" x="625.7" y="405.9" font-size="12.2" text-anchor="middle">2</text>
<text transform="matrix(1 0 0 1.035 0 -15.36)" x="625.7" y="438.9" font-size="12.2" text-anchor="middle">3</text>
<text transform="matrix(1 0 0 1.035 0 -16.87)" x="442.0" y="482.0" font-size="28" font-weight="bold">POL</text>
<text transform="matrix(1 0 0 1.035 0 -17.35)" x="599.2" y="495.7" font-size="21.4" text-anchor="end">NUDC</text>
<text transform="matrix(1 0 0 1.035 0 -17.28)" x="625.7" y="493.6" font-size="12.2" text-anchor="middle">2</text>
<text transform="matrix(1 0 0 1.035 0 -18.51)" x="599.2" y="528.8" font-size="21.4" text-anchor="end">RUVBL1</text>
<text transform="matrix(1 0 0 1.035 0 -18.43)" x="625.7" y="526.7" font-size="12.2" text-anchor="middle">3</text>
<text transform="matrix(1 0 0 1.035 0 -20.24)" x="599.2" y="578.3" font-size="21.4" text-anchor="end">PELO</text>
<path d="M611.8 539.8V603.3" stroke="#111" stroke-width="2" fill="none"/>
<text transform="matrix(1 0 0 1.035 0 -19.59)" x="625.7" y="559.7" font-size="12.2" text-anchor="middle">2</text>
<text transform="matrix(1 0 0 1.035 0 -20.75)" x="625.7" y="592.8" font-size="12.2" text-anchor="middle">2</text>
<text transform="matrix(1 0 0 1.035 0 -22.22)" x="442.0" y="634.8" font-size="28" font-weight="bold">PR</text>
<text transform="matrix(1 0 0 1.035 0 -22.73)" x="599.2" y="649.4" font-size="21.4" text-anchor="end">EIF3M</text>
<text transform="matrix(1 0 0 1.035 0 -22.66)" x="625.7" y="647.3" font-size="12.2" text-anchor="middle">2</text>
<text transform="matrix(1 0 0 1.035 0 -23.89)" x="599.2" y="682.5" font-size="21.4" text-anchor="end">HGH1</text>
<text transform="matrix(1 0 0 1.035 0 -23.81)" x="625.7" y="680.4" font-size="12.2" text-anchor="middle">3</text>
<text transform="matrix(1 0 0 1.035 0 -25.62)" x="599.2" y="732.0" font-size="21.4" text-anchor="end">MSH2</text>
<path d="M611.8 693.5V757.0" stroke="#111" stroke-width="2" fill="none"/>
<text transform="matrix(1 0 0 1.035 0 -24.97)" x="625.7" y="713.4" font-size="12.2" text-anchor="middle">1</text>
<text transform="matrix(1 0 0 1.035 0 -26.13)" x="625.7" y="746.5" font-size="12.2" text-anchor="middle">2</text>
<text transform="matrix(1 0 0 1.035 0 -27.94)" x="599.2" y="798.1" font-size="21.4" text-anchor="end">EIF3D</text>
<path d="M611.8 759.6V823.1" stroke="#111" stroke-width="2" fill="none"/>
<text transform="matrix(1 0 0 1.035 0 -27.28)" x="625.7" y="779.5" font-size="12.2" text-anchor="middle">1</text>
<text transform="matrix(1 0 0 1.035 0 -28.44)" x="625.7" y="812.6" font-size="12.2" text-anchor="middle">3</text>
<text transform="matrix(1 0 0 1.035 0 -30.25)" x="599.2" y="864.2" font-size="21.4" text-anchor="end">EIF3E</text>
<path d="M611.8 825.7V889.2" stroke="#111" stroke-width="2" fill="none"/>
<text transform="matrix(1 0 0 1.035 0 -29.60)" x="625.7" y="845.6" font-size="12.2" text-anchor="middle">1</text>
<text transform="matrix(1 0 0 1.035 0 -30.75)" x="625.7" y="878.7" font-size="12.2" text-anchor="middle">3</text>
<text transform="matrix(1 0 0 1.035 0 -31.98)" x="599.2" y="913.8" font-size="21.4" text-anchor="end">EIF3H</text>
<text transform="matrix(1 0 0 1.035 0 -31.91)" x="625.7" y="911.7" font-size="12.2" text-anchor="middle">1</text>
<text transform="matrix(1 0 0 1.035 0 -33.14)" x="599.2" y="946.9" font-size="21.4" text-anchor="end">PARP4</text>
<text transform="matrix(1 0 0 1.035 0 -33.07)" x="625.7" y="944.8" font-size="12.2" text-anchor="middle">2</text>
<text transform="matrix(1 0 0 1.035 0 -34.88)" x="599.2" y="996.5" font-size="21.4" text-anchor="end">SARS</text>
<path d="M611.8 957.9V1021.4" stroke="#111" stroke-width="2" fill="none"/>
<text transform="matrix(1 0 0 1.035 0 -34.22)" x="625.7" y="977.8" font-size="12.2" text-anchor="middle">1</text>
<text transform="matrix(1 0 0 1.035 0 -35.38)" x="625.7" y="1010.9" font-size="12.2" text-anchor="middle">3</text>
<text transform="matrix(1 0 0 1.035 0 -36.61)" x="599.2" y="1046.0" font-size="21.4" text-anchor="end">SMG6</text>
<text transform="matrix(1 0 0 1.035 0 -36.54)" x="625.7" y="1043.9" font-size="12.2" text-anchor="middle">2</text>
<text transform="matrix(1 0 0 1.035 0 -37.81)" x="442.0" y="1080.3" font-size="28" font-weight="bold">RT</text>
<text transform="matrix(1 0 0 1.035 0 -39.10)" x="599.2" y="1117.1" font-size="21.4" text-anchor="end">KIAA1429</text>
<path d="M611.8 1078.6V1142.1" stroke="#111" stroke-width="2" fill="none"/>
<text transform="matrix(1 0 0 1.035 0 -38.45)" x="625.7" y="1098.5" font-size="12.2" text-anchor="middle">2</text>
<text transform="matrix(1 0 0 1.035 0 -39.61)" x="625.7" y="1131.6" font-size="12.2" text-anchor="middle">3</text>
<text transform="matrix(1 0 0 1.035 0 -40.69)" x="442.0" y="1162.5" font-size="28" font-weight="bold">IN</text>
<text transform="matrix(1 0 0 1.035 0 -41.59)" x="599.2" y="1188.3" font-size="21.4" text-anchor="end">LEDGF (control)</text>
<text transform="matrix(1 0 0 1.035 0 -41.52)" x="625.7" y="1186.2" font-size="12.2" text-anchor="middle">1</text>
<text transform="matrix(1 0 0 1.035 0 -43.33)" x="599.2" y="1237.9" font-size="21.4" text-anchor="end">LEDGF</text>
<path d="M611.8 1199.3V1262.9" stroke="#111" stroke-width="2" fill="none"/>
<text transform="matrix(1 0 0 1.035 0 -42.67)" x="625.7" y="1219.3" font-size="12.2" text-anchor="middle">1</text>
<text transform="matrix(1 0 0 1.035 0 -43.83)" x="625.7" y="1252.3" font-size="12.2" text-anchor="middle">3</text>
<text transform="matrix(1 0 0 1.035 0 -45.06)" x="599.2" y="1287.5" font-size="21.4" text-anchor="end">MCM6</text>
<text transform="matrix(1 0 0 1.035 0 -44.99)" x="625.7" y="1285.4" font-size="12.2" text-anchor="middle">3</text>
<text transform="matrix(1 0 0 1.035 0 -46.22)" x="599.2" y="1320.5" font-size="21.4" text-anchor="end">UBA1</text>
<text transform="matrix(1 0 0 1.035 0 -46.14)" x="625.7" y="1318.4" font-size="12.2" text-anchor="middle">2</text>
<g shape-rendering="crispEdges"><rect x="642.00" y="110.40" width="33.47" height="33.35" fill="#fa815f"/><rect x="675.17" y="110.40" width="33.47" height="33.35" fill="#fd9c82"/><rect x="708.34" y="110.40" width="33.47" height="33.35" fill="#fda38b"/><rect x="758.00" y="110.40" width="33.50" height="33.35" fill="#f4bcbc"/><rect x="642.00" y="143.45" width="33.47" height="33.35" fill="#fda087"/><rect x="675.17" y="143.45" width="33.47" height="33.35" fill="#fd9f86"/><rect x="708.34" y="143.45" width="33.47" height="33.35" fill="#fec5b5"/><rect x="758.00" y="143.45" width="33.50" height="33.35" fill="#dd6464"/><rect x="642.00" y="197.95" width="33.47" height="33.35" fill="#fd9579"/><rect x="675.17" y="197.95" width="33.47" height="33.35" fill="#fdaa93"/><rect x="708.34" y="197.95" width="33.47" height="33.35" fill="#fdad98"/><rect x="758.00" y="197.95" width="33.50" height="33.35" fill="#f4bcbc"/><rect x="642.00" y="231.00" width="33.47" height="33.35" fill="#f4643d"/><rect x="675.17" y="231.00" width="33.47" height="33.35" fill="#fd9072"/><rect x="708.34" y="231.00" width="33.47" height="33.35" fill="#fda38b"/><rect x="758.00" y="231.00" width="33.50" height="33.35" fill="#f4bcbc"/><rect x="642.00" y="264.05" width="33.47" height="33.35" fill="#858181"/><rect x="675.17" y="264.05" width="33.47" height="33.35" fill="#fda38b"/><rect x="708.34" y="264.05" width="33.47" height="33.35" fill="#fda38b"/><rect x="758.00" y="264.05" width="33.50" height="33.35" fill="#f4bcbc"/><rect x="642.00" y="318.55" width="33.47" height="33.35" fill="#ad87d8"/><rect x="675.17" y="318.55" width="33.47" height="33.35" fill="#a47ed2"/><rect x="708.34" y="318.55" width="33.47" height="33.35" fill="#af89d9"/><rect x="758.00" y="318.55" width="33.50" height="33.35" fill="#f0a8aa"/><rect x="642.00" y="351.60" width="33.47" height="33.35" fill="#dabdee"/><rect x="675.17" y="351.60" width="33.47" height="33.35" fill="#c7a2e4"/><rect x="708.34" y="351.60" width="33.47" height="33.35" fill="#b68fdd"/><rect x="758.00" y="351.60" width="33.50" height="33.35" fill="#bb261c"/><rect x="642.00" y="384.65" width="33.47" height="33.35" fill="#dcc0ef"/><rect x="675.17" y="384.65" width="33.47" height="33.35" fill="#d2b2ea"/><rect x="708.34" y="384.65" width="33.47" height="33.35" fill="#b28bdb"/><rect x="758.00" y="384.65" width="33.50" height="33.35" fill="#f0a8aa"/><rect x="642.00" y="417.70" width="33.47" height="33.35" fill="#d1afe9"/><rect x="675.17" y="417.70" width="33.47" height="33.35" fill="#e7d6f4"/><rect x="708.34" y="417.70" width="33.47" height="33.35" fill="#d6b8ec"/><rect x="758.00" y="417.70" width="33.50" height="33.35" fill="#f8dada"/><rect x="642.00" y="472.40" width="33.47" height="33.35" fill="#b68fdd"/><rect x="675.17" y="472.40" width="33.47" height="33.35" fill="#9f7acf"/><rect x="708.34" y="472.40" width="33.47" height="33.35" fill="#b68fdd"/><rect x="758.00" y="472.40" width="33.50" height="33.35" fill="#d24c4a"/><rect x="642.00" y="505.45" width="33.47" height="33.35" fill="#cdaae7"/><rect x="675.17" y="505.45" width="33.47" height="33.35" fill="#d6b8ec"/><rect x="708.34" y="505.45" width="33.47" height="33.35" fill="#e7d6f4"/><rect x="758.00" y="505.45" width="33.50" height="33.35" fill="#f8dada"/><rect x="642.00" y="538.50" width="33.47" height="33.35" fill="#858181"/><rect x="675.17" y="538.50" width="33.47" height="33.35" fill="#9f7acf"/><rect x="708.34" y="538.50" width="33.47" height="33.35" fill="#8d68c4"/><rect x="758.00" y="538.50" width="33.50" height="33.35" fill="#ea9090"/><rect x="642.00" y="571.55" width="33.47" height="33.35" fill="#febeab"/><rect x="675.17" y="571.55" width="33.47" height="33.35" fill="#feb8a4"/><rect x="708.34" y="571.55" width="33.47" height="33.35" fill="#fadad1"/><rect x="758.00" y="571.55" width="33.50" height="33.35" fill="#ea9090"/><rect x="642.00" y="626.10" width="33.47" height="33.35" fill="#cface8"/><rect x="675.17" y="626.10" width="33.47" height="33.35" fill="#c9a4e5"/><rect x="708.34" y="626.10" width="33.47" height="33.35" fill="#d1afe9"/><rect x="758.00" y="626.10" width="33.50" height="33.35" fill="#ea9090"/><rect x="642.00" y="659.15" width="33.47" height="33.35" fill="#b28bdb"/><rect x="675.17" y="659.15" width="33.47" height="33.35" fill="#bc96e0"/><rect x="708.34" y="659.15" width="33.47" height="33.35" fill="#d4b5eb"/><rect x="758.00" y="659.15" width="33.50" height="33.35" fill="#ea9090"/><rect x="642.00" y="692.20" width="33.47" height="33.35" fill="#3c379b"/><rect x="675.17" y="692.20" width="33.47" height="33.35" fill="#382c94"/><rect x="708.34" y="692.20" width="33.47" height="33.35" fill="#382d94"/><rect x="758.00" y="692.20" width="33.50" height="33.35" fill="#ea9090"/><rect x="642.00" y="725.25" width="33.47" height="33.35" fill="#a680d4"/><rect x="675.17" y="725.25" width="33.47" height="33.35" fill="#7e5bbb"/><rect x="708.34" y="725.25" width="33.47" height="33.35" fill="#5a4ead"/><rect x="758.00" y="725.25" width="33.50" height="33.35" fill="#ea9090"/><rect x="642.00" y="758.30" width="33.47" height="33.35" fill="#f9dbd3"/><rect x="675.17" y="758.30" width="33.47" height="33.35" fill="#7558b7"/><rect x="708.34" y="758.30" width="33.47" height="33.35" fill="#4349a6"/><rect x="758.00" y="758.30" width="33.50" height="33.35" fill="#bb261c"/><rect x="642.00" y="791.35" width="33.47" height="33.35" fill="#e7d6f4"/><rect x="675.17" y="791.35" width="33.47" height="33.35" fill="#d4b5eb"/><rect x="708.34" y="791.35" width="33.47" height="33.35" fill="#c7a2e4"/><rect x="758.00" y="791.35" width="33.50" height="33.35" fill="#bb261c"/><rect x="642.00" y="824.40" width="33.47" height="33.35" fill="#e5d2f4"/><rect x="675.17" y="824.40" width="33.47" height="33.35" fill="#8d68c4"/><rect x="708.34" y="824.40" width="33.47" height="33.35" fill="#8862c0"/><rect x="758.00" y="824.40" width="33.50" height="33.35" fill="#bb261c"/><rect x="642.00" y="857.45" width="33.47" height="33.35" fill="#ebebeb"/><rect x="675.17" y="857.45" width="33.47" height="33.35" fill="#b68fdd"/><rect x="708.34" y="857.45" width="33.47" height="33.35" fill="#af89d9"/><rect x="758.00" y="857.45" width="33.50" height="33.35" fill="#ea9090"/><rect x="642.00" y="890.50" width="33.47" height="33.35" fill="#e7d6f4"/><rect x="675.17" y="890.50" width="33.47" height="33.35" fill="#d1afe9"/><rect x="708.34" y="890.50" width="33.47" height="33.35" fill="#be98e0"/><rect x="758.00" y="890.50" width="33.50" height="33.35" fill="#ea9090"/><rect x="642.00" y="923.55" width="33.47" height="33.35" fill="#e0c7f1"/><rect x="675.17" y="923.55" width="33.47" height="33.35" fill="#d2b2ea"/><rect x="708.34" y="923.55" width="33.47" height="33.35" fill="#d2b2ea"/><rect x="758.00" y="923.55" width="33.50" height="33.35" fill="#f4bcbc"/><rect x="642.00" y="956.60" width="33.47" height="33.35" fill="#d4b5eb"/><rect x="675.17" y="956.60" width="33.47" height="33.35" fill="#d6b8ec"/><rect x="708.34" y="956.60" width="33.47" height="33.35" fill="#b68fdd"/><rect x="758.00" y="956.60" width="33.50" height="33.35" fill="#f8dada"/><rect x="642.00" y="989.65" width="33.47" height="33.35" fill="#e3cef3"/><rect x="675.17" y="989.65" width="33.47" height="33.35" fill="#c39de2"/><rect x="708.34" y="989.65" width="33.47" height="33.35" fill="#be98e0"/><rect x="758.00" y="989.65" width="33.50" height="33.35" fill="#f8dada"/><rect x="642.00" y="1022.70" width="33.47" height="33.35" fill="#f3e1dc"/><rect x="675.17" y="1022.70" width="33.47" height="33.35" fill="#fdac96"/><rect x="708.34" y="1022.70" width="33.47" height="33.35" fill="#feb9a6"/><rect x="758.00" y="1022.70" width="33.50" height="33.35" fill="#f8d0d0"/><rect x="642.00" y="1077.30" width="33.47" height="33.35" fill="#e7d6f4"/><rect x="675.17" y="1077.30" width="33.47" height="33.35" fill="#cface8"/><rect x="708.34" y="1077.30" width="33.47" height="33.35" fill="#906ac6"/><rect x="758.00" y="1077.30" width="33.50" height="33.35" fill="#f8dada"/><rect x="642.00" y="1110.35" width="33.47" height="33.35" fill="#e3cef3"/><rect x="675.17" y="1110.35" width="33.47" height="33.35" fill="#cface8"/><rect x="708.34" y="1110.35" width="33.47" height="33.35" fill="#b48ddc"/><rect x="758.00" y="1110.35" width="33.50" height="33.35" fill="#f0a8aa"/><rect x="642.00" y="1165.00" width="33.47" height="33.35" fill="#835dbd"/><rect x="675.17" y="1165.00" width="33.47" height="33.35" fill="#6552b1"/><rect x="708.34" y="1165.00" width="33.47" height="33.35" fill="#6953b2"/><rect x="758.00" y="1165.00" width="33.50" height="33.35" fill="#bb261c"/><rect x="642.00" y="1198.05" width="33.47" height="33.35" fill="#d4b5eb"/><rect x="675.17" y="1198.05" width="33.47" height="33.35" fill="#be98e0"/><rect x="708.34" y="1198.05" width="33.47" height="33.35" fill="#a882d5"/><rect x="758.00" y="1198.05" width="33.50" height="33.35" fill="#bb261c"/><rect x="642.00" y="1231.10" width="33.47" height="33.35" fill="#9873cb"/><rect x="675.17" y="1231.10" width="33.47" height="33.35" fill="#6953b2"/><rect x="708.34" y="1231.10" width="33.47" height="33.35" fill="#544daa"/><rect x="758.00" y="1231.10" width="33.50" height="33.35" fill="#bb261c"/><rect x="642.00" y="1264.15" width="33.47" height="33.35" fill="#dec4f0"/><rect x="675.17" y="1264.15" width="33.47" height="33.35" fill="#dfc5f0"/><rect x="708.34" y="1264.15" width="33.47" height="33.35" fill="#c59fe3"/><rect x="758.00" y="1264.15" width="33.50" height="33.35" fill="#bb261c"/><rect x="642.00" y="1297.20" width="33.47" height="33.35" fill="#e3cef3"/><rect x="675.17" y="1297.20" width="33.47" height="33.35" fill="#cdaae7"/><rect x="708.34" y="1297.20" width="33.47" height="33.35" fill="#d2b2ea"/><rect x="758.00" y="1297.20" width="33.50" height="33.35" fill="#f4bcbc"/></g>
<text transform="matrix(1 0 0 1.035 0 -2.17)" x="688.5" y="62.0" font-size="21.4" text-anchor="middle">Days</text>
<path d="M643.8 74H729.6" stroke="#111" stroke-width="1.9" fill="none"/>
<path d="M737.6 74L725.0 68.9L728.2 74L725.0 79.1Z" fill="#111"/>
<text transform="matrix(1 0 0 1.035 0 -3.53)" x="657.3" y="100.8" font-size="20" font-weight="bold" text-anchor="middle">3</text>
<text transform="matrix(1 0 0 1.035 0 -3.53)" x="689.9" y="100.8" font-size="20" font-weight="bold" text-anchor="middle">5</text>
<text transform="matrix(1 0 0 1.035 0 -3.53)" x="721.7" y="100.8" font-size="20" font-weight="bold" text-anchor="middle">7</text>
<text transform="translate(767.9 57.8) rotate(90) scale(1 1.07)" font-size="21.4" style="fill:#111">Dnrs</text>
<rect x="806.8" y="113.3" width="6.6" height="642.6" fill="#5bbdbd"/>
<text transform="translate(822.4 112.8) rotate(90) scale(1 1.03)" font-size="25" style="fill:#5bbdbd">Early</text>
<rect x="806.8" y="762.4" width="6.6" height="380.8" fill="#8b5a33"/>
<text transform="translate(820.3 762.4) rotate(90) scale(1 1.03)" font-size="25" style="fill:#8b5a33">Late</text>
<rect x="806.8" y="1165.9" width="6.6" height="97.7" fill="#5bbdbd"/>
<text transform="translate(822.4 1167.0) rotate(90) scale(1 1.03)" font-size="25" style="fill:#5bbdbd">Early</text>
<rect x="806.8" y="1268.3" width="6.6" height="59.5" fill="#8b5a33"/>
<text transform="translate(820.2 1268.5) rotate(90) scale(1 1.03)" font-size="25" style="fill:#8b5a33">Late</text>
<text transform="matrix(1 0 0 1.035 0 -3.17)" x="885.5" y="90.6" font-size="28" font-weight="bold">Tat</text>
<text transform="matrix(1 0 0 1.035 0 -4.72)" x="1049.3" y="134.9" font-size="21.4" text-anchor="end">CDK9 (control)</text>
<text transform="matrix(1 0 0 1.035 0 -4.66)" x="1075.8" y="133.1" font-size="12.2" text-anchor="middle">1</text>
<text transform="matrix(1 0 0 1.035 0 -6.47)" x="1049.3" y="184.7" font-size="21.4" text-anchor="end">CDK9</text>
<path d="M1061.9 146.2V209.8" stroke="#111" stroke-width="2" fill="none"/>
<text transform="matrix(1 0 0 1.035 0 -5.82)" x="1075.8" y="166.2" font-size="12.2" text-anchor="middle">1</text>
<text transform="matrix(1 0 0 1.035 0 -6.97)" x="1075.8" y="199.2" font-size="12.2" text-anchor="middle">2</text>
<text transform="matrix(1 0 0 1.035 0 -8.21)" x="1049.3" y="234.5" font-size="21.4" text-anchor="end">AFF1</text>
<text transform="matrix(1 0 0 1.035 0 -8.13)" x="1075.8" y="232.3" font-size="12.2" text-anchor="middle">3</text>
<text transform="matrix(1 0 0 1.035 0 -9.95)" x="1049.3" y="284.4" font-size="21.4" text-anchor="end">CCNT1</text>
<path d="M1061.9 245.4V308.9" stroke="#111" stroke-width="2" fill="none"/>
<text transform="matrix(1 0 0 1.035 0 -9.29)" x="1075.8" y="265.3" font-size="12.2" text-anchor="middle">1</text>
<text transform="matrix(1 0 0 1.035 0 -10.44)" x="1075.8" y="298.4" font-size="12.2" text-anchor="middle">3</text>
<text transform="matrix(1 0 0 1.035 0 -11.70)" x="1049.3" y="334.2" font-size="21.4" text-anchor="end">HNRNPH3</text>
<text transform="matrix(1 0 0 1.035 0 -11.60)" x="1075.8" y="331.4" font-size="12.2" text-anchor="middle">1</text>
<text transform="matrix(1 0 0 1.035 0 -12.86)" x="1049.3" y="367.4" font-size="21.4" text-anchor="end">USP11</text>
<text transform="matrix(1 0 0 1.035 0 -12.76)" x="1075.8" y="364.5" font-size="12.2" text-anchor="middle">1</text>
<text transform="matrix(1 0 0 1.035 0 -14.60)" x="1049.3" y="417.0" font-size="21.4" text-anchor="end">HEXIM1 (control)</text>
<path d="M1061.9 377.6V441.1" stroke="#111" stroke-width="2" fill="none"/>
<text transform="matrix(1 0 0 1.035 0 -13.91)" x="1075.8" y="397.5" font-size="12.2" text-anchor="middle">1</text>
<text transform="matrix(1 0 0 1.035 0 -15.07)" x="1075.8" y="430.6" font-size="12.2" text-anchor="middle">3</text>
<text transform="matrix(1 0 0 1.035 0 -16.33)" x="1049.3" y="466.6" font-size="21.4" text-anchor="end">LARP7</text>
<text transform="matrix(1 0 0 1.035 0 -16.23)" x="1075.8" y="463.6" font-size="12.2" text-anchor="middle">2</text>
<text transform="matrix(1 0 0 1.035 0 -18.07)" x="1049.3" y="516.2" font-size="21.4" text-anchor="end">MEPCE</text>
<path d="M1061.9 476.7V540.2" stroke="#111" stroke-width="2" fill="none"/>
<text transform="matrix(1 0 0 1.035 0 -17.38)" x="1075.8" y="496.7" font-size="12.2" text-anchor="middle">1</text>
<text transform="matrix(1 0 0 1.035 0 -18.54)" x="1075.8" y="529.7" font-size="12.2" text-anchor="middle">2</text>
<text transform="matrix(1 0 0 1.035 0 -19.80)" x="885.5" y="565.7" font-size="28" font-weight="bold">Rev</text>
<text transform="matrix(1 0 0 1.035 0 -20.56)" x="1049.3" y="587.4" font-size="21.4" text-anchor="end">TMED9</text>
<text transform="matrix(1 0 0 1.035 0 -20.45)" x="1075.8" y="584.4" font-size="12.2" text-anchor="middle">3</text>
<text transform="matrix(1 0 0 1.035 0 -21.58)" x="885.5" y="616.5" font-size="28" font-weight="bold">Vif</text>
<text transform="matrix(1 0 0 1.035 0 -22.47)" x="1049.3" y="642.1" font-size="21.4" text-anchor="end">AMBRA1</text>
<text transform="matrix(1 0 0 1.035 0 -22.37)" x="1075.8" y="639.1" font-size="12.2" text-anchor="middle">1</text>
<text transform="matrix(1 0 0 1.035 0 -23.63)" x="1049.3" y="675.2" font-size="21.4" text-anchor="end">CUL2</text>
<text transform="matrix(1 0 0 1.035 0 -23.53)" x="1075.8" y="672.2" font-size="12.2" text-anchor="middle">2</text>
<text transform="matrix(1 0 0 1.035 0 -25.37)" x="1049.3" y="724.7" font-size="21.4" text-anchor="end">HUWE1</text>
<path d="M1061.9 685.3V748.8" stroke="#111" stroke-width="2" fill="none"/>
<text transform="matrix(1 0 0 1.035 0 -24.68)" x="1075.8" y="705.2" font-size="12.2" text-anchor="middle">1</text>
<text transform="matrix(1 0 0 1.035 0 -25.84)" x="1075.8" y="738.3" font-size="12.2" text-anchor="middle">3</text>
<text transform="matrix(1 0 0 1.035 0 -27.10)" x="1049.3" y="774.3" font-size="21.4" text-anchor="end">CBFb</text>
<text transform="matrix(1 0 0 1.035 0 -27.00)" x="1075.8" y="771.3" font-size="12.2" text-anchor="middle">1</text>
<text transform="matrix(1 0 0 1.035 0 -28.84)" x="1049.3" y="823.9" font-size="21.4" text-anchor="end">ELOC</text>
<path d="M1061.9 784.4V848.0" stroke="#111" stroke-width="2" fill="none"/>
<text transform="matrix(1 0 0 1.035 0 -28.15)" x="1075.8" y="804.4" font-size="12.2" text-anchor="middle">1</text>
<text transform="matrix(1 0 0 1.035 0 -29.31)" x="1075.8" y="837.4" font-size="12.2" text-anchor="middle">2</text>
<text transform="matrix(1 0 0 1.035 0 -31.15)" x="1049.3" y="890.0" font-size="21.4" text-anchor="end">ELOB</text>
<path d="M1061.9 850.5V914.0" stroke="#111" stroke-width="2" fill="none"/>
<text transform="matrix(1 0 0 1.035 0 -30.47)" x="1075.8" y="870.5" font-size="12.2" text-anchor="middle">1</text>
<text transform="matrix(1 0 0 1.035 0 -31.62)" x="1075.8" y="903.5" font-size="12.2" text-anchor="middle">2</text>
<text transform="matrix(1 0 0 1.035 0 -32.89)" x="1049.3" y="939.6" font-size="21.4" text-anchor="end">HDAC3</text>
<text transform="matrix(1 0 0 1.035 0 -32.78)" x="1075.8" y="936.6" font-size="12.2" text-anchor="middle">3</text>
<text transform="matrix(1 0 0 1.035 0 -34.04)" x="1049.3" y="972.6" font-size="21.4" text-anchor="end">NCOR1</text>
<text transform="matrix(1 0 0 1.035 0 -33.94)" x="1075.8" y="969.6" font-size="12.2" text-anchor="middle">2</text>
<text transform="matrix(1 0 0 1.035 0 -35.29)" x="885.5" y="1008.3" font-size="28" font-weight="bold">Vpr</text>
<text transform="matrix(1 0 0 1.035 0 -35.96)" x="1049.3" y="1027.4" font-size="21.4" text-anchor="end">ANKRD17</text>
<text transform="matrix(1 0 0 1.035 0 -35.85)" x="1075.8" y="1024.4" font-size="12.2" text-anchor="middle">3</text>
<text transform="matrix(1 0 0 1.035 0 -37.69)" x="1049.3" y="1077.0" font-size="21.4" text-anchor="end">COPS3</text>
<path d="M1061.9 1037.5V1101.1" stroke="#111" stroke-width="2" fill="none"/>
<text transform="matrix(1 0 0 1.035 0 -37.01)" x="1075.8" y="1057.5" font-size="12.2" text-anchor="middle">1</text>
<text transform="matrix(1 0 0 1.035 0 -38.17)" x="1075.8" y="1090.5" font-size="12.2" text-anchor="middle">3</text>
<text transform="matrix(1 0 0 1.035 0 -40.01)" x="1049.3" y="1143.1" font-size="21.4" text-anchor="end">MATR3</text>
<path d="M1061.9 1103.7V1167.2" stroke="#111" stroke-width="2" fill="none"/>
<text transform="matrix(1 0 0 1.035 0 -39.33)" x="1075.8" y="1123.6" font-size="12.2" text-anchor="middle">1</text>
<text transform="matrix(1 0 0 1.035 0 -40.48)" x="1075.8" y="1156.6" font-size="12.2" text-anchor="middle">2</text>
<text transform="matrix(1 0 0 1.035 0 -41.74)" x="1049.3" y="1192.7" font-size="21.4" text-anchor="end">MOGS</text>
<text transform="matrix(1 0 0 1.035 0 -41.64)" x="1075.8" y="1189.7" font-size="12.2" text-anchor="middle">3</text>
<text transform="matrix(1 0 0 1.035 0 -42.90)" x="1049.3" y="1225.7" font-size="21.4" text-anchor="end">COPS2</text>
<text transform="matrix(1 0 0 1.035 0 -42.80)" x="1075.8" y="1222.7" font-size="12.2" text-anchor="middle">3</text>
<text transform="matrix(1 0 0 1.035 0 -44.06)" x="1049.3" y="1258.8" font-size="21.4" text-anchor="end">DDB1</text>
<text transform="matrix(1 0 0 1.035 0 -43.95)" x="1075.8" y="1255.8" font-size="12.2" text-anchor="middle">2</text>
<text transform="matrix(1 0 0 1.035 0 -45.21)" x="1049.3" y="1291.8" font-size="21.4" text-anchor="end">VPRBP</text>
<text transform="matrix(1 0 0 1.035 0 -45.11)" x="1075.8" y="1288.8" font-size="12.2" text-anchor="middle">3</text>
<text transform="matrix(1 0 0 1.035 0 -46.37)" x="1049.3" y="1324.9" font-size="21.4" text-anchor="end">COPS4</text>
<text transform="matrix(1 0 0 1.035 0 -46.27)" x="1075.8" y="1321.9" font-size="12.2" text-anchor="middle">1</text>
<text transform="matrix(1 0 0 1.035 0 -47.53)" x="1049.3" y="1357.9" font-size="21.4" text-anchor="end">COPS8</text>
<text transform="matrix(1 0 0 1.035 0 -47.42)" x="1075.8" y="1354.9" font-size="12.2" text-anchor="middle">2</text>
<text transform="matrix(1 0 0 1.035 0 -48.68)" x="1049.3" y="1391.0" font-size="21.4" text-anchor="end">GPS1</text>
<text transform="matrix(1 0 0 1.035 0 -48.58)" x="1075.8" y="1388.0" font-size="12.2" text-anchor="middle">1</text>
<text transform="matrix(1 0 0 1.035 0 -49.97)" x="885.5" y="1427.8" font-size="28" font-weight="bold">Vpu</text>
<text transform="matrix(1 0 0 1.035 0 -50.59)" x="1049.3" y="1445.4" font-size="21.4" text-anchor="end">CHP1</text>
<text transform="matrix(1 0 0 1.035 0 -50.48)" x="1075.8" y="1442.4" font-size="12.2" text-anchor="middle">3</text>
<text transform="matrix(1 0 0 1.035 0 -51.75)" x="1049.3" y="1478.5" font-size="21.4" text-anchor="end">CNTNAP1</text>
<text transform="matrix(1 0 0 1.035 0 -51.64)" x="1075.8" y="1475.5" font-size="12.2" text-anchor="middle">1</text>
<text transform="matrix(1 0 0 1.035 0 -53.48)" x="1049.3" y="1528.0" font-size="21.4" text-anchor="end">NCAPD3</text>
<path d="M1061.9 1488.6V1552.1" stroke="#111" stroke-width="2" fill="none"/>
<text transform="matrix(1 0 0 1.035 0 -52.80)" x="1075.8" y="1508.5" font-size="12.2" text-anchor="middle">1</text>
<text transform="matrix(1 0 0 1.035 0 -53.96)" x="1075.8" y="1541.6" font-size="12.2" text-anchor="middle">3</text>
<text transform="matrix(1 0 0 1.035 0 -55.80)" x="1049.3" y="1594.2" font-size="21.4" text-anchor="end">SKP1</text>
<path d="M1061.9 1554.7V1618.2" stroke="#111" stroke-width="2" fill="none"/>
<text transform="matrix(1 0 0 1.035 0 -55.11)" x="1075.8" y="1574.6" font-size="12.2" text-anchor="middle">1</text>
<text transform="matrix(1 0 0 1.035 0 -56.27)" x="1075.8" y="1607.7" font-size="12.2" text-anchor="middle">3</text>
<text transform="matrix(1 0 0 1.035 0 -57.53)" x="1049.3" y="1643.7" font-size="21.4" text-anchor="end">SLIRP</text>
<text transform="matrix(1 0 0 1.035 0 -57.43)" x="1075.8" y="1640.7" font-size="12.2" text-anchor="middle">3</text>
<text transform="matrix(1 0 0 1.035 0 -58.69)" x="1049.3" y="1676.8" font-size="21.4" text-anchor="end">PREB</text>
<text transform="matrix(1 0 0 1.035 0 -58.58)" x="1075.8" y="1673.8" font-size="12.2" text-anchor="middle">2</text>
<text transform="matrix(1 0 0 1.035 0 -59.84)" x="1049.3" y="1709.8" font-size="21.4" text-anchor="end">RANBP1</text>
<text transform="matrix(1 0 0 1.035 0 -59.74)" x="1075.8" y="1706.8" font-size="12.2" text-anchor="middle">1</text>
<text transform="matrix(1 0 0 1.035 0 -61.00)" x="1049.3" y="1742.9" font-size="21.4" text-anchor="end">SGPL1</text>
<text transform="matrix(1 0 0 1.035 0 -60.90)" x="1075.8" y="1739.9" font-size="12.2" text-anchor="middle">2</text>
<text transform="matrix(1 0 0 1.035 0 -62.16)" x="1049.3" y="1775.9" font-size="21.4" text-anchor="end">XPO5</text>
<text transform="matrix(1 0 0 1.035 0 -62.05)" x="1075.8" y="1772.9" font-size="12.2" text-anchor="middle">2</text>
<text transform="matrix(1 0 0 1.035 0 -63.31)" x="1049.3" y="1809.0" font-size="21.4" text-anchor="end">CEP57</text>
<text transform="matrix(1 0 0 1.035 0 -63.21)" x="1075.8" y="1806.0" font-size="12.2" text-anchor="middle">2</text>
<text transform="matrix(1 0 0 1.035 0 -64.47)" x="1049.3" y="1842.0" font-size="21.4" text-anchor="end">RANBP2</text>
<text transform="matrix(1 0 0 1.035 0 -64.37)" x="1075.8" y="1839.0" font-size="12.2" text-anchor="middle">3</text>
<g shape-rendering="crispEdges"><rect x="1092.60" y="111.90" width="33.43" height="33.35" fill="#8d68c4"/><rect x="1125.73" y="111.90" width="33.43" height="33.35" fill="#6552b1"/><rect x="1158.86" y="111.90" width="33.43" height="33.35" fill="#8660bf"/><rect x="1208.50" y="111.90" width="33.30" height="33.35" fill="#e27676"/><rect x="1092.60" y="144.95" width="33.43" height="33.35" fill="#8660bf"/><rect x="1125.73" y="144.95" width="33.43" height="33.35" fill="#7959b9"/><rect x="1158.86" y="144.95" width="33.43" height="33.35" fill="#b48ddc"/><rect x="1208.50" y="144.95" width="33.30" height="33.35" fill="#f8dada"/><rect x="1092.60" y="178.00" width="33.43" height="33.35" fill="#c59fe3"/><rect x="1125.73" y="178.00" width="33.43" height="33.35" fill="#b68fdd"/><rect x="1158.86" y="178.00" width="33.43" height="33.35" fill="#c59fe3"/><rect x="1208.50" y="178.00" width="33.30" height="33.35" fill="#e27676"/><rect x="1092.60" y="211.05" width="33.43" height="33.35" fill="#cdaae7"/><rect x="1125.73" y="211.05" width="33.43" height="33.35" fill="#dabdee"/><rect x="1158.86" y="211.05" width="33.43" height="33.35" fill="#d8baed"/><rect x="1208.50" y="211.05" width="33.30" height="33.35" fill="#f8dada"/><rect x="1092.60" y="244.10" width="33.43" height="33.35" fill="#4145a4"/><rect x="1125.73" y="244.10" width="33.43" height="33.35" fill="#3f3fa0"/><rect x="1158.86" y="244.10" width="33.43" height="33.35" fill="#4145a4"/><rect x="1208.50" y="244.10" width="33.30" height="33.35" fill="#bb261c"/><rect x="1092.60" y="277.15" width="33.43" height="33.35" fill="#c59fe3"/><rect x="1125.73" y="277.15" width="33.43" height="33.35" fill="#ab85d6"/><rect x="1158.86" y="277.15" width="33.43" height="33.35" fill="#c9a4e5"/><rect x="1208.50" y="277.15" width="33.30" height="33.35" fill="#d24c4a"/><rect x="1092.60" y="310.20" width="33.43" height="33.35" fill="#c59fe3"/><rect x="1125.73" y="310.20" width="33.43" height="33.35" fill="#ab85d6"/><rect x="1158.86" y="310.20" width="33.43" height="33.35" fill="#cface8"/><rect x="1208.50" y="310.20" width="33.30" height="33.35" fill="#ea9090"/><rect x="1092.60" y="343.25" width="33.43" height="33.35" fill="#8d68c4"/><rect x="1125.73" y="343.25" width="33.43" height="33.35" fill="#b892de"/><rect x="1158.86" y="343.25" width="33.43" height="33.35" fill="#e0c7f1"/><rect x="1208.50" y="343.25" width="33.30" height="33.35" fill="#ea9090"/><rect x="1092.60" y="376.30" width="33.43" height="33.35" fill="#fda087"/><rect x="1125.73" y="376.30" width="33.43" height="33.35" fill="#fec2b1"/><rect x="1158.86" y="376.30" width="33.43" height="33.35" fill="#f9dbd3"/><rect x="1208.50" y="376.30" width="33.30" height="33.35" fill="#bb261c"/><rect x="1092.60" y="409.35" width="33.43" height="33.35" fill="#fd9d84"/><rect x="1125.73" y="409.35" width="33.43" height="33.35" fill="#febca9"/><rect x="1158.86" y="409.35" width="33.43" height="33.35" fill="#fdb09b"/><rect x="1208.50" y="409.35" width="33.30" height="33.35" fill="#ea9090"/><rect x="1092.60" y="442.40" width="33.43" height="33.35" fill="#fdad98"/><rect x="1125.73" y="442.40" width="33.43" height="33.35" fill="#fec7b7"/><rect x="1158.86" y="442.40" width="33.43" height="33.35" fill="#febca9"/><rect x="1208.50" y="442.40" width="33.30" height="33.35" fill="#f0a8aa"/><rect x="1092.60" y="475.45" width="33.43" height="33.35" fill="#fda087"/><rect x="1125.73" y="475.45" width="33.43" height="33.35" fill="#fdad98"/><rect x="1158.86" y="475.45" width="33.43" height="33.35" fill="#fda38b"/><rect x="1208.50" y="475.45" width="33.30" height="33.35" fill="#f5c4c4"/><rect x="1092.60" y="508.50" width="33.43" height="33.35" fill="#febca9"/><rect x="1125.73" y="508.50" width="33.43" height="33.35" fill="#fda087"/><rect x="1158.86" y="508.50" width="33.43" height="33.35" fill="#fda790"/><rect x="1208.50" y="508.50" width="33.30" height="33.35" fill="#fae4e4"/><rect x="1092.60" y="563.20" width="33.43" height="33.35" fill="#c59fe3"/><rect x="1125.73" y="563.20" width="33.43" height="33.35" fill="#b68fdd"/><rect x="1158.86" y="563.20" width="33.43" height="33.35" fill="#c39de2"/><rect x="1208.50" y="563.20" width="33.30" height="33.35" fill="#f8dada"/><rect x="1092.60" y="617.90" width="33.43" height="33.35" fill="#fdb09b"/><rect x="1125.73" y="617.90" width="33.43" height="33.35" fill="#fdaa93"/><rect x="1158.86" y="617.90" width="33.43" height="33.35" fill="#fec2b1"/><rect x="1208.50" y="617.90" width="33.30" height="33.35" fill="#ea9090"/><rect x="1092.60" y="650.95" width="33.43" height="33.35" fill="#febfad"/><rect x="1125.73" y="650.95" width="33.43" height="33.35" fill="#febfad"/><rect x="1158.86" y="650.95" width="33.43" height="33.35" fill="#fec2b1"/><rect x="1208.50" y="650.95" width="33.30" height="33.35" fill="#e27676"/><rect x="1092.60" y="684.00" width="33.43" height="33.35" fill="#fb8261"/><rect x="1125.73" y="684.00" width="33.43" height="33.35" fill="#fa7e5b"/><rect x="1158.86" y="684.00" width="33.43" height="33.35" fill="#fda087"/><rect x="1208.50" y="684.00" width="33.30" height="33.35" fill="#bb261c"/><rect x="1092.60" y="717.05" width="33.43" height="33.35" fill="#febfad"/><rect x="1125.73" y="717.05" width="33.43" height="33.35" fill="#fdb09b"/><rect x="1158.86" y="717.05" width="33.43" height="33.35" fill="#febfad"/><rect x="1208.50" y="717.05" width="33.30" height="33.35" fill="#bb261c"/><rect x="1092.60" y="750.10" width="33.43" height="33.35" fill="#e1cbf2"/><rect x="1125.73" y="750.10" width="33.43" height="33.35" fill="#b68fdd"/><rect x="1158.86" y="750.10" width="33.43" height="33.35" fill="#cface8"/><rect x="1208.50" y="750.10" width="33.30" height="33.35" fill="#bb261c"/><rect x="1092.60" y="783.15" width="33.43" height="33.35" fill="#eadff5"/><rect x="1125.73" y="783.15" width="33.43" height="33.35" fill="#cdaae7"/><rect x="1158.86" y="783.15" width="33.43" height="33.35" fill="#be98e0"/><rect x="1208.50" y="783.15" width="33.30" height="33.35" fill="#bb261c"/><rect x="1092.60" y="816.20" width="33.43" height="33.35" fill="#ebe8ee"/><rect x="1125.73" y="816.20" width="33.43" height="33.35" fill="#d8baed"/><rect x="1158.86" y="816.20" width="33.43" height="33.35" fill="#cdaae7"/><rect x="1208.50" y="816.20" width="33.30" height="33.35" fill="#bb261c"/><rect x="1092.60" y="849.25" width="33.43" height="33.35" fill="#ebebeb"/><rect x="1125.73" y="849.25" width="33.43" height="33.35" fill="#564dab"/><rect x="1158.86" y="849.25" width="33.43" height="33.35" fill="#4349a6"/><rect x="1208.50" y="849.25" width="33.30" height="33.35" fill="#bb261c"/><rect x="1092.60" y="882.30" width="33.43" height="33.35" fill="#efe6e3"/><rect x="1125.73" y="882.30" width="33.43" height="33.35" fill="#c7a2e4"/><rect x="1158.86" y="882.30" width="33.43" height="33.35" fill="#9f7acf"/><rect x="1208.50" y="882.30" width="33.30" height="33.35" fill="#bb261c"/><rect x="1092.60" y="915.35" width="33.43" height="33.35" fill="#feccbd"/><rect x="1125.73" y="915.35" width="33.43" height="33.35" fill="#fdaa93"/><rect x="1158.86" y="915.35" width="33.43" height="33.35" fill="#fdb4a0"/><rect x="1208.50" y="915.35" width="33.30" height="33.35" fill="#f0a8aa"/><rect x="1092.60" y="948.40" width="33.43" height="33.35" fill="#e7d6f4"/><rect x="1125.73" y="948.40" width="33.43" height="33.35" fill="#fdb09b"/><rect x="1158.86" y="948.40" width="33.43" height="33.35" fill="#fdaa93"/><rect x="1208.50" y="948.40" width="33.30" height="33.35" fill="#f8dada"/><rect x="1092.60" y="1003.20" width="33.43" height="33.35" fill="#c7a2e4"/><rect x="1125.73" y="1003.20" width="33.43" height="33.35" fill="#d1afe9"/><rect x="1158.86" y="1003.20" width="33.43" height="33.35" fill="#d1afe9"/><rect x="1208.50" y="1003.20" width="33.30" height="33.35" fill="#f0a8aa"/><rect x="1092.60" y="1036.25" width="33.43" height="33.35" fill="#c7a2e4"/><rect x="1125.73" y="1036.25" width="33.43" height="33.35" fill="#7e5bbb"/><rect x="1158.86" y="1036.25" width="33.43" height="33.35" fill="#af89d9"/><rect x="1208.50" y="1036.25" width="33.30" height="33.35" fill="#ea9090"/><rect x="1092.60" y="1069.30" width="33.43" height="33.35" fill="#936dc7"/><rect x="1125.73" y="1069.30" width="33.43" height="33.35" fill="#3d3b9e"/><rect x="1158.86" y="1069.30" width="33.43" height="33.35" fill="#3e3d9f"/><rect x="1208.50" y="1069.30" width="33.30" height="33.35" fill="#bb261c"/><rect x="1092.60" y="1102.35" width="33.43" height="33.35" fill="#b892de"/><rect x="1125.73" y="1102.35" width="33.43" height="33.35" fill="#9f7acf"/><rect x="1158.86" y="1102.35" width="33.43" height="33.35" fill="#cdaae7"/><rect x="1208.50" y="1102.35" width="33.30" height="33.35" fill="#bb261c"/><rect x="1092.60" y="1135.40" width="33.43" height="33.35" fill="#af89d9"/><rect x="1125.73" y="1135.40" width="33.43" height="33.35" fill="#9d78ce"/><rect x="1158.86" y="1135.40" width="33.43" height="33.35" fill="#c9a4e5"/><rect x="1208.50" y="1135.40" width="33.30" height="33.35" fill="#bb261c"/><rect x="1092.60" y="1168.45" width="33.43" height="33.35" fill="#cdaae7"/><rect x="1125.73" y="1168.45" width="33.43" height="33.35" fill="#d6b8ec"/><rect x="1158.86" y="1168.45" width="33.43" height="33.35" fill="#e3cef3"/><rect x="1208.50" y="1168.45" width="33.30" height="33.35" fill="#ea9090"/><rect x="1092.60" y="1201.50" width="33.43" height="33.35" fill="#fdb09b"/><rect x="1125.73" y="1201.50" width="33.43" height="33.35" fill="#fdb39f"/><rect x="1158.86" y="1201.50" width="33.43" height="33.35" fill="#febfad"/><rect x="1208.50" y="1201.50" width="33.30" height="33.35" fill="#bb261c"/><rect x="1092.60" y="1234.55" width="33.43" height="33.35" fill="#fc8c6d"/><rect x="1125.73" y="1234.55" width="33.43" height="33.35" fill="#fa805d"/><rect x="1158.86" y="1234.55" width="33.43" height="33.35" fill="#fb8564"/><rect x="1208.50" y="1234.55" width="33.30" height="33.35" fill="#f8dada"/><rect x="1092.60" y="1267.60" width="33.43" height="33.35" fill="#febfad"/><rect x="1125.73" y="1267.60" width="33.43" height="33.35" fill="#fec2b1"/><rect x="1158.86" y="1267.60" width="33.43" height="33.35" fill="#fdb6a2"/><rect x="1208.50" y="1267.60" width="33.30" height="33.35" fill="#f4bcbc"/><rect x="1092.60" y="1300.65" width="33.43" height="33.35" fill="#eee7e6"/><rect x="1125.73" y="1300.65" width="33.43" height="33.35" fill="#be98e0"/><rect x="1158.86" y="1300.65" width="33.43" height="33.35" fill="#c7a2e4"/><rect x="1208.50" y="1300.65" width="33.30" height="33.35" fill="#ea9090"/><rect x="1092.60" y="1333.70" width="33.43" height="33.35" fill="#e7d6f4"/><rect x="1125.73" y="1333.70" width="33.43" height="33.35" fill="#a882d5"/><rect x="1158.86" y="1333.70" width="33.43" height="33.35" fill="#d6b8ec"/><rect x="1208.50" y="1333.70" width="33.30" height="33.35" fill="#ea9090"/><rect x="1092.60" y="1366.75" width="33.43" height="33.35" fill="#dabdee"/><rect x="1125.73" y="1366.75" width="33.43" height="33.35" fill="#564dab"/><rect x="1158.86" y="1366.75" width="33.43" height="33.35" fill="#6552b1"/><rect x="1208.50" y="1366.75" width="33.30" height="33.35" fill="#bb261c"/><rect x="1092.60" y="1421.20" width="33.43" height="33.35" fill="#8660bf"/><rect x="1125.73" y="1421.20" width="33.43" height="33.35" fill="#815cbc"/><rect x="1158.86" y="1421.20" width="33.43" height="33.35" fill="#9873cb"/><rect x="1208.50" y="1421.20" width="33.30" height="33.35" fill="#f4bcbc"/><rect x="1092.60" y="1454.25" width="33.43" height="33.35" fill="#cdaae7"/><rect x="1125.73" y="1454.25" width="33.43" height="33.35" fill="#dabdee"/><rect x="1158.86" y="1454.25" width="33.43" height="33.35" fill="#ebebeb"/><rect x="1208.50" y="1454.25" width="33.30" height="33.35" fill="#f8dada"/><rect x="1092.60" y="1487.30" width="33.43" height="33.35" fill="#c9a4e5"/><rect x="1125.73" y="1487.30" width="33.43" height="33.35" fill="#be98e0"/><rect x="1158.86" y="1487.30" width="33.43" height="33.35" fill="#cface8"/><rect x="1208.50" y="1487.30" width="33.30" height="33.35" fill="#ea9090"/><rect x="1092.60" y="1520.35" width="33.43" height="33.35" fill="#b68fdd"/><rect x="1125.73" y="1520.35" width="33.43" height="33.35" fill="#835dbd"/><rect x="1158.86" y="1520.35" width="33.43" height="33.35" fill="#8b65c2"/><rect x="1208.50" y="1520.35" width="33.30" height="33.35" fill="#ea9090"/><rect x="1092.60" y="1553.40" width="33.43" height="33.35" fill="#cba7e6"/><rect x="1125.73" y="1553.40" width="33.43" height="33.35" fill="#b48ddc"/><rect x="1158.86" y="1553.40" width="33.43" height="33.35" fill="#858181"/><rect x="1208.50" y="1553.40" width="33.30" height="33.35" fill="#f0a8aa"/><rect x="1092.60" y="1586.45" width="33.43" height="33.35" fill="#be98e0"/><rect x="1125.73" y="1586.45" width="33.43" height="33.35" fill="#c19be1"/><rect x="1158.86" y="1586.45" width="33.43" height="33.35" fill="#858181"/><rect x="1208.50" y="1586.45" width="33.30" height="33.35" fill="#f8dada"/><rect x="1092.60" y="1619.50" width="33.43" height="33.35" fill="#c59fe3"/><rect x="1125.73" y="1619.50" width="33.43" height="33.35" fill="#c9a4e5"/><rect x="1158.86" y="1619.50" width="33.43" height="33.35" fill="#dec4f0"/><rect x="1208.50" y="1619.50" width="33.30" height="33.35" fill="#ea9090"/><rect x="1092.60" y="1652.55" width="33.43" height="33.35" fill="#e0c7f1"/><rect x="1125.73" y="1652.55" width="33.43" height="33.35" fill="#9a75cc"/><rect x="1158.86" y="1652.55" width="33.43" height="33.35" fill="#cface8"/><rect x="1208.50" y="1652.55" width="33.30" height="33.35" fill="#f4bcbc"/><rect x="1092.60" y="1685.60" width="33.43" height="33.35" fill="#d4b5eb"/><rect x="1125.73" y="1685.60" width="33.43" height="33.35" fill="#cdaae7"/><rect x="1158.86" y="1685.60" width="33.43" height="33.35" fill="#cdaae7"/><rect x="1208.50" y="1685.60" width="33.30" height="33.35" fill="#f0a8aa"/><rect x="1092.60" y="1718.65" width="33.43" height="33.35" fill="#e0c7f1"/><rect x="1125.73" y="1718.65" width="33.43" height="33.35" fill="#c9a4e5"/><rect x="1158.86" y="1718.65" width="33.43" height="33.35" fill="#c7a2e4"/><rect x="1208.50" y="1718.65" width="33.30" height="33.35" fill="#f8dada"/><rect x="1092.60" y="1751.70" width="33.43" height="33.35" fill="#e0c7f1"/><rect x="1125.73" y="1751.70" width="33.43" height="33.35" fill="#d8baed"/><rect x="1158.86" y="1751.70" width="33.43" height="33.35" fill="#dcc0ef"/><rect x="1208.50" y="1751.70" width="33.30" height="33.35" fill="#bb261c"/><rect x="1092.60" y="1784.75" width="33.43" height="33.35" fill="#fecfc1"/><rect x="1125.73" y="1784.75" width="33.43" height="33.35" fill="#febfad"/><rect x="1158.86" y="1784.75" width="33.43" height="33.35" fill="#fdad98"/><rect x="1208.50" y="1784.75" width="33.30" height="33.35" fill="#f8dada"/><rect x="1092.60" y="1817.80" width="33.43" height="33.35" fill="#fecfc1"/><rect x="1125.73" y="1817.80" width="33.43" height="33.35" fill="#fc8b6b"/><rect x="1158.86" y="1817.80" width="33.43" height="33.35" fill="#fdb6a2"/><rect x="1208.50" y="1817.80" width="33.30" height="33.35" fill="#f8dada"/></g>
<text transform="matrix(1 0 0 1.035 0 -2.17)" x="1139.8" y="62.0" font-size="21.4" text-anchor="middle">Days</text>
<path d="M1094.4 74H1180.2" stroke="#111" stroke-width="1.9" fill="none"/>
<path d="M1188.2 74L1175.6 68.9L1178.8 74L1175.6 79.1Z" fill="#111"/>
<text transform="matrix(1 0 0 1.035 0 -3.53)" x="1108.6" y="100.8" font-size="20" font-weight="bold" text-anchor="middle">3</text>
<text transform="matrix(1 0 0 1.035 0 -3.53)" x="1141.7" y="100.8" font-size="20" font-weight="bold" text-anchor="middle">5</text>
<text transform="matrix(1 0 0 1.035 0 -3.53)" x="1173.5" y="100.8" font-size="20" font-weight="bold" text-anchor="middle">7</text>
<text transform="translate(1218.4 57.8) rotate(90) scale(1 1.07)" font-size="21.4" style="fill:#111">Dnrs</text>
<rect x="1258.0" y="113.4" width="6.6" height="632.1" fill="#5bbdbd"/>
<text transform="translate(1272.4 113.2) rotate(90) scale(1 1.03)" font-size="25" style="fill:#5bbdbd">Early</text>
<rect x="1258.0" y="751.2" width="6.6" height="228.5" fill="#8b5a33"/>
<text transform="translate(1267.0 753.8) rotate(90) scale(1 1.03)" font-size="25" style="fill:#8b5a33">Late</text>
<rect x="1258.0" y="1002.2" width="6.6" height="292.3" fill="#5bbdbd"/>
<text transform="translate(1267.0 1004.0) rotate(90) scale(1 1.03)" font-size="25" style="fill:#5bbdbd">Early</text>
<rect x="1258.0" y="1300.8" width="6.6" height="97.7" fill="#8b5a33"/>
<text transform="translate(1266.7 1304.6) rotate(90) scale(1 1.03)" font-size="25" style="fill:#8b5a33">Late</text>
<rect x="1258.0" y="1422.2" width="6.6" height="227.1" fill="#5bbdbd"/>
<text transform="translate(1266.2 1426.0) rotate(90) scale(1 1.03)" font-size="25" style="fill:#5bbdbd">Early</text>
<rect x="1258.0" y="1656.0" width="6.6" height="195.0" fill="#8b5a33"/>
<text transform="translate(1266.7 1658.1) rotate(90) scale(1 1.03)" font-size="25" style="fill:#8b5a33">Late</text>
<defs><linearGradient id="g1" x1="0" y1="0" x2="0" y2="1"><stop offset="0" stop-color="#fd9c62"/><stop offset="0.2" stop-color="#f8c4a4"/><stop offset="0.42" stop-color="#ecebea"/><stop offset="0.58" stop-color="#e6e6ec"/><stop offset="0.8" stop-color="#8f95c8"/><stop offset="1" stop-color="#3b45a3"/></linearGradient><linearGradient id="g2" x1="0" y1="0" x2="0" y2="1"><stop offset="0" stop-color="#bb261c"/><stop offset="0.5" stop-color="#e38582"/><stop offset="1" stop-color="#ffffff"/></linearGradient></defs>
<rect x="496.4" y="1414.7" width="19.6" height="169.1" fill="url(#g1)"/>
<rect x="496.4" y="1629.8" width="19.6" height="159.5" fill="url(#g2)"/>
<text transform="matrix(1 0 0 1.035 0 -50.43)" x="525.0" y="1441.0" font-size="28.7">Restriction Factor</text>
<text transform="matrix(1 0 0 1.035 0 -52.87)" x="525.0" y="1510.6" font-size="28.7">No Effect</text>
<text transform="matrix(1 0 0 1.035 0 -55.31)" x="525.0" y="1580.2" font-size="28.7">Dependency Factor</text>
<text transform="matrix(1 0 0 1.035 0 -57.99)" x="525.0" y="1657.0" font-size="28.7">100</text>
<text transform="matrix(1 0 0 1.035 0 -60.41)" x="525.0" y="1726.0" font-size="28.7">50</text>
<text transform="matrix(1 0 0 1.035 0 -62.84)" x="525.0" y="1795.5" font-size="28.7">0</text>
<text transform="matrix(1 0 0 1.035 0 -59.64)" x="591.5" y="1704.0" font-size="28.7">% Donors</text>
<text transform="matrix(1 0 0 1.035 0 -60.83)" x="591.5" y="1738.0" font-size="28.7">with Phenotype</text>
<text transform="matrix(1 0 0 1.035 0 -1.75)" x="1313.2" y="50.0" font-size="72">B</text>
<path d="M1448.7 175.1H1960.8" stroke="#111" stroke-width="2.1" stroke-dasharray="6.8 6.6" fill="none"/>
<path d="M1503.4 141.9V173.2M1503.4 199.1V234.0" stroke="#3f48a6" stroke-width="2.3" fill="none"/>
<rect x="1484.6" y="174.3" width="37.5" height="23.6" fill="#fff" stroke="#3f48a6" stroke-width="2.3"/>
<path d="M1483.4 181.0H1523.2" stroke="#3f48a6" stroke-width="2.3" fill="none"/>
<path d="M1503.4 235.8V255.2" stroke="#3f48a6" stroke-width="4.9" stroke-linecap="round" fill="none"/>
<g fill="#3f48a6"><circle cx="1503.4" cy="265.0" r="2.45"/><circle cx="1503.4" cy="267.6" r="2.45"/><circle cx="1503.4" cy="274.8" r="2.45"/><circle cx="1503.4" cy="277.6" r="2.45"/><circle cx="1503.4" cy="280.4" r="2.45"/><circle cx="1503.4" cy="285.6" r="2.45"/><circle cx="1503.4" cy="296.4" r="2.45"/><circle cx="1503.4" cy="299.4" r="2.45"/><circle cx="1503.4" cy="307.6" r="2.45"/><circle cx="1503.4" cy="318.2" r="2.45"/><circle cx="1503.4" cy="320.3" r="2.45"/></g>
<path d="M1545.5 145.8V170.1M1545.5 195.7V230.0" stroke="#3f48a6" stroke-width="2.3" fill="none"/>
<rect x="1526.7" y="171.2" width="37.5" height="23.3" fill="#fff" stroke="#3f48a6" stroke-width="2.3"/>
<path d="M1525.5 180.3H1565.3" stroke="#3f48a6" stroke-width="2.3" fill="none"/>
<path d="M1545.5 231.0V259.1" stroke="#3f48a6" stroke-width="4.9" stroke-linecap="round" fill="none"/>
<g fill="#3f48a6"><circle cx="1545.5" cy="120.9" r="2.45"/><circle cx="1545.5" cy="131.4" r="2.45"/><circle cx="1545.5" cy="264.8" r="2.45"/><circle cx="1545.5" cy="268.0" r="2.45"/><circle cx="1545.5" cy="271.5" r="2.45"/><circle cx="1545.5" cy="276.5" r="2.45"/><circle cx="1545.5" cy="285.2" r="2.45"/></g>
<path d="M1587.4 116.8V159.2M1587.4 190.7V231.7" stroke="#3f48a6" stroke-width="2.3" fill="none"/>
<rect x="1568.5" y="160.3" width="37.7" height="29.2" fill="#fff" stroke="#3f48a6" stroke-width="2.3"/>
<path d="M1567.3 175.5H1607.3" stroke="#3f48a6" stroke-width="2.3" fill="none"/>
<g fill="#3f48a6"><circle cx="1587.4" cy="83.6" r="2.45"/><circle cx="1587.4" cy="86.0" r="2.45"/><circle cx="1587.4" cy="88.3" r="2.45"/><circle cx="1587.4" cy="102.1" r="2.45"/><circle cx="1587.4" cy="110.3" r="2.45"/><circle cx="1587.4" cy="112.7" r="2.45"/><circle cx="1587.4" cy="115.2" r="2.45"/><circle cx="1587.4" cy="240.6" r="2.45"/><circle cx="1587.4" cy="252.2" r="2.45"/><circle cx="1587.4" cy="254.6" r="2.45"/><circle cx="1587.4" cy="257.0" r="2.45"/><circle cx="1587.4" cy="259.5" r="2.45"/><circle cx="1587.4" cy="262.0" r="2.45"/><circle cx="1587.4" cy="264.4" r="2.45"/><circle cx="1587.4" cy="266.4" r="2.45"/><circle cx="1587.4" cy="274.0" r="2.45"/><circle cx="1587.4" cy="282.5" r="2.45"/><circle cx="1587.4" cy="286.0" r="2.45"/><circle cx="1587.4" cy="290.6" r="2.45"/></g>
<path d="M1671.2 170.2V179.4M1671.2 202.0V229.7" stroke="#f9825f" stroke-width="2.3" fill="none"/>
<rect x="1652.7" y="180.6" width="37.2" height="20.3" fill="#fff" stroke="#f9825f" stroke-width="2.3"/>
<path d="M1651.5 189.4H1691.0" stroke="#f9825f" stroke-width="2.3" fill="none"/>
<g fill="#f9825f"><circle cx="1671.2" cy="238.3" r="2.45"/><circle cx="1671.2" cy="245.5" r="2.45"/><circle cx="1671.2" cy="248.6" r="2.45"/><circle cx="1671.2" cy="269.3" r="2.45"/></g>
<path d="M1713.2 165.7V181.7M1713.2 214.8V247.7" stroke="#f9825f" stroke-width="2.3" fill="none"/>
<rect x="1694.7" y="182.8" width="37.2" height="30.8" fill="#fff" stroke="#f9825f" stroke-width="2.3"/>
<path d="M1693.5 201.3H1733.0" stroke="#f9825f" stroke-width="2.3" fill="none"/>
<g fill="#f9825f"><circle cx="1713.2" cy="275.4" r="2.45"/></g>
<path d="M1755.4 164.9V184.0M1755.4 240.0V311.7" stroke="#f9825f" stroke-width="2.3" fill="none"/>
<rect x="1736.9" y="185.2" width="37.0" height="53.7" fill="#fff" stroke="#f9825f" stroke-width="2.3"/>
<path d="M1735.7 211.8H1775.0" stroke="#f9825f" stroke-width="2.3" fill="none"/>
<path d="M1839.2 150.0V169.2M1839.2 181.7V200.0" stroke="#aaaaaa" stroke-width="2.3" fill="none"/>
<rect x="1820.4" y="170.3" width="37.7" height="10.2" fill="#fff" stroke="#aaaaaa" stroke-width="2.3"/>
<path d="M1819.2 175.3H1859.2" stroke="#aaaaaa" stroke-width="2.3" fill="none"/>
<path d="M1839.2 140.8V154.0" stroke="#aaaaaa" stroke-width="4.9" stroke-linecap="round" fill="none"/>
<path d="M1839.2 196.4V269.1" stroke="#aaaaaa" stroke-width="4.9" stroke-linecap="round" fill="none"/>
<g fill="#aaaaaa"><circle cx="1839.2" cy="275.3" r="2.45"/><circle cx="1839.2" cy="286.0" r="2.45"/><circle cx="1839.2" cy="289.0" r="2.45"/><circle cx="1839.2" cy="292.5" r="2.45"/><circle cx="1839.2" cy="305.4" r="2.45"/><circle cx="1839.2" cy="310.0" r="2.45"/><circle cx="1839.2" cy="319.3" r="2.45"/><circle cx="1839.2" cy="341.1" r="2.45"/></g>
<path d="M1881.2 150.0V169.2M1881.2 182.5V200.0" stroke="#aaaaaa" stroke-width="2.3" fill="none"/>
<rect x="1862.5" y="170.3" width="37.5" height="11.0" fill="#fff" stroke="#aaaaaa" stroke-width="2.3"/>
<path d="M1861.3 175.3H1901.1" stroke="#aaaaaa" stroke-width="2.3" fill="none"/>
<path d="M1881.2 139.2V152.2" stroke="#aaaaaa" stroke-width="4.9" stroke-linecap="round" fill="none"/>
<path d="M1881.2 200.6V292.6" stroke="#aaaaaa" stroke-width="4.9" stroke-linecap="round" fill="none"/>
<g fill="#aaaaaa"><circle cx="1881.2" cy="300.8" r="2.45"/><circle cx="1881.2" cy="315.5" r="2.45"/><circle cx="1881.2" cy="318.5" r="2.45"/><circle cx="1881.2" cy="321.5" r="2.45"/><circle cx="1881.2" cy="324.5" r="2.45"/><circle cx="1881.2" cy="339.0" r="2.45"/><circle cx="1881.2" cy="342.4" r="2.45"/><circle cx="1881.2" cy="378.2" r="2.45"/><circle cx="1881.2" cy="421.3" r="2.45"/><circle cx="1881.2" cy="443.7" r="2.45"/></g>
<path d="M1923.3 150.0V168.7M1923.3 183.7V203.0" stroke="#aaaaaa" stroke-width="2.3" fill="none"/>
<rect x="1904.5" y="169.8" width="37.8" height="12.7" fill="#fff" stroke="#aaaaaa" stroke-width="2.3"/>
<path d="M1903.3 175.3H1943.4" stroke="#aaaaaa" stroke-width="2.3" fill="none"/>
<path d="M1923.3 136.6V149.7" stroke="#aaaaaa" stroke-width="4.9" stroke-linecap="round" fill="none"/>
<path d="M1923.3 203.2V278.6" stroke="#aaaaaa" stroke-width="4.9" stroke-linecap="round" fill="none"/>
<g fill="#aaaaaa"><circle cx="1923.3" cy="117.5" r="2.45"/><circle cx="1923.3" cy="124.5" r="2.45"/><circle cx="1923.3" cy="127.5" r="2.45"/><circle cx="1923.3" cy="284.5" r="2.45"/><circle cx="1923.3" cy="288.0" r="2.45"/><circle cx="1923.3" cy="291.5" r="2.45"/><circle cx="1923.3" cy="304.5" r="2.45"/><circle cx="1923.3" cy="308.0" r="2.45"/><circle cx="1923.3" cy="311.5" r="2.45"/><circle cx="1923.3" cy="315.0" r="2.45"/><circle cx="1923.3" cy="318.5" r="2.45"/><circle cx="1923.3" cy="322.0" r="2.45"/><circle cx="1923.3" cy="331.5" r="2.45"/><circle cx="1923.3" cy="335.2" r="2.45"/><circle cx="1923.3" cy="348.0" r="2.45"/><circle cx="1923.3" cy="462.4" r="2.45"/></g>
<path d="M1450.6 65.8V481.3M1449.5 480.3H1966.4" stroke="#111" stroke-width="2.2" fill="none"/>
<text transform="matrix(1 0 0 1.035 0 -3.83)" x="1438.6" y="109.5" font-size="18" text-anchor="end">1</text>
<text transform="matrix(1 0 0 1.035 0 -6.36)" x="1438.6" y="181.6" font-size="18" text-anchor="end">0</text>
<text transform="matrix(1 0 0 1.035 0 -8.83)" x="1438.6" y="252.2" font-size="18" text-anchor="end">-1</text>
<text transform="matrix(1 0 0 1.035 0 -11.29)" x="1438.6" y="322.5" font-size="18" text-anchor="end">-2</text>
<text transform="matrix(1 0 0 1.035 0 -13.76)" x="1438.6" y="393.1" font-size="18" text-anchor="end">-3</text>
<text transform="matrix(1 0 0 1.035 0 -16.22)" x="1438.6" y="463.5" font-size="18" text-anchor="end">-4</text>
<text transform="matrix(1 0 0 1.035 0 -17.62)" x="1502.8" y="503.4" font-size="17.6" text-anchor="middle">3</text>
<text transform="matrix(1 0 0 1.035 0 -17.62)" x="1545.2" y="503.4" font-size="17.6" text-anchor="middle">5</text>
<text transform="matrix(1 0 0 1.035 0 -17.62)" x="1587.5" y="503.4" font-size="17.6" text-anchor="middle">7</text>
<text transform="matrix(1 0 0 1.035 0 -17.62)" x="1671.2" y="503.4" font-size="17.6" text-anchor="middle">3</text>
<text transform="matrix(1 0 0 1.035 0 -17.62)" x="1713.2" y="503.4" font-size="17.6" text-anchor="middle">5</text>
<text transform="matrix(1 0 0 1.035 0 -17.62)" x="1755.4" y="503.4" font-size="17.6" text-anchor="middle">7</text>
<text transform="matrix(1 0 0 1.035 0 -17.62)" x="1839.2" y="503.4" font-size="17.6" text-anchor="middle">3</text>
<text transform="matrix(1 0 0 1.035 0 -17.62)" x="1881.2" y="503.4" font-size="17.6" text-anchor="middle">5</text>
<text transform="matrix(1 0 0 1.035 0 -17.62)" x="1923.2" y="503.4" font-size="17.6" text-anchor="middle">7</text>
<path d="M1444 103.0H1450.6M1444 175.1H1450.6M1444 245.7H1450.6M1444 316.0H1450.6M1444 386.6H1450.6M1444 457.0H1450.6M1502.8 480.3V486.4M1545.2 480.3V486.4M1587.5 480.3V486.4M1671.2 480.3V486.4M1713.2 480.3V486.4M1755.4 480.3V486.4M1839.2 480.3V486.4M1881.2 480.3V486.4M1923.2 480.3V486.4" stroke="#111" stroke-width="2.1" fill="none"/>
<text transform="matrix(1 0 0 1.035 0 -17.62)" x="1440.6" y="503.4" font-size="17.6">Day</text>
<text transform="matrix(1 0 0 1.035 0 -18.69)" x="1545.0" y="534.0" font-size="22.5" text-anchor="middle">Dependency</text>
<text transform="matrix(1 0 0 1.035 0 -19.65)" x="1545.0" y="561.4" font-size="22.5" text-anchor="middle">Factors</text>
<text transform="matrix(1 0 0 1.035 0 -18.69)" x="1710.7" y="534.0" font-size="22.5" text-anchor="middle">Restriction</text>
<text transform="matrix(1 0 0 1.035 0 -19.65)" x="1710.7" y="561.4" font-size="22.5" text-anchor="middle">Factors</text>
<text transform="matrix(1 0 0 1.035 0 -18.69)" x="1883.0" y="534.0" font-size="22.5" text-anchor="middle">No Effect</text>
<text transform="translate(1373.4 267.8) rotate(-90) scale(1 1.035)" font-size="22.9" text-anchor="middle" style="fill:#111">Log2 Fold Change in Cell Count</text>
<text transform="translate(1403 268.1) rotate(-90) scale(1 1.035)" font-size="22.9" text-anchor="middle" style="fill:#111">(normalized to plate median)</text>
<text transform="matrix(1 0 0 1.035 0 -22.82)" x="1313.2" y="652.0" font-size="72">C</text>
<text transform="matrix(1 0 0 1.035 0 -22.39)" x="1673.6" y="639.6" font-size="22.9" text-anchor="middle">Percent of Factors Previously</text>
<text transform="matrix(1 0 0 1.035 0 -23.34)" x="1673.6" y="667.0" font-size="22.9" text-anchor="middle">Reported in the Literature</text>
<rect x="1657.5" y="731.8" width="173.5" height="35.4" fill="#fb8278" stroke="#111" stroke-width="2.2"/>
<rect x="1502.3" y="731.8" width="155.2" height="35.4" fill="#8ab51a" stroke="#111" stroke-width="2.2"/>
<rect x="1593.1" y="784.1" width="237.9" height="35.7" fill="#fb8278" stroke="#111" stroke-width="2.2"/>
<rect x="1502.3" y="784.1" width="90.8" height="35.7" fill="#8ab51a" stroke="#111" stroke-width="2.2"/>
<rect x="1633.1" y="836.8" width="197.9" height="35.8" fill="#fb8278" stroke="#111" stroke-width="2.2"/>
<rect x="1502.3" y="836.8" width="130.8" height="35.8" fill="#8ab51a" stroke="#111" stroke-width="2.2"/>
<path d="M1502.3 712.6V888.6M1501.3 717.3H1846.8M1502.3 712.4V717.3M1584.7 712.4V717.3M1667.2 712.4V717.3M1749.6 712.4V717.3M1832.0 712.4V717.3M1497.3 749.6H1502.3M1497.3 802.2H1502.3M1497.3 854.5H1502.3" stroke="#111" stroke-width="2.2" fill="none"/>
<text transform="translate(1495.7 706.3) rotate(90) scale(1 1.035)" font-size="17.3" text-anchor="end" style="fill:#111">0</text>
<text transform="translate(1578.1 706.3) rotate(90) scale(1 1.035)" font-size="17.3" text-anchor="end" style="fill:#111">25</text>
<text transform="translate(1660.6 706.3) rotate(90) scale(1 1.035)" font-size="17.3" text-anchor="end" style="fill:#111">50</text>
<text transform="translate(1743.0 706.3) rotate(90) scale(1 1.035)" font-size="17.3" text-anchor="end" style="fill:#111">75</text>
<text transform="translate(1825.4 706.3) rotate(90) scale(1 1.035)" font-size="17.3" text-anchor="end" style="fill:#111">100</text>
<text transform="matrix(1 0 0 1.035 0 -26.39)" x="1491.6" y="754.1" font-size="17.6" text-anchor="end">Host Factors</text>
<text transform="matrix(1 0 0 1.035 0 -27.91)" x="1491.6" y="797.4" font-size="17.6" text-anchor="end">No Observable</text>
<text transform="matrix(1 0 0 1.035 0 -28.65)" x="1491.6" y="818.6" font-size="17.6" text-anchor="end">Phenotype</text>
<text transform="matrix(1 0 0 1.035 0 -30.12)" x="1491.6" y="860.5" font-size="17.6" text-anchor="end">Undetermnied</text>
<rect x="1877.6" y="768.5" width="19.7" height="19.8" fill="#fb8278" stroke="#111" stroke-width="2.2"/>
<rect x="1877.6" y="800" width="19.7" height="19.4" fill="#8ab51a" stroke="#111" stroke-width="2.2"/>
<text transform="matrix(1 0 0 1.035 0 -27.54)" x="1905.3" y="786.8" font-size="23">Unknown</text>
<text transform="matrix(1 0 0 1.035 0 -28.64)" x="1905.3" y="818.3" font-size="23">Reported</text>
<text transform="matrix(1 0 0 1.035 0 -33.13)" x="1488.2" y="946.5" font-size="21.2" font-weight="bold" text-anchor="middle">Gene</text>
<path d="M1450.0 957H1526.4" stroke="#111" stroke-width="1.5" fill="none"/>
<text transform="matrix(1 0 0 1.035 0 -33.13)" x="1634.2" y="946.5" font-size="21.2" font-weight="bold" text-anchor="middle">Unknown</text>
<path d="M1596.0 957H1672.4" stroke="#111" stroke-width="1.5" fill="none"/>
<text transform="matrix(1 0 0 1.035 0 -33.13)" x="1748.8" y="946.5" font-size="21.2" font-weight="bold" text-anchor="middle">Reported</text>
<path d="M1710.6 957H1787.0" stroke="#111" stroke-width="1.5" fill="none"/>
<text transform="matrix(1 0 0 1.035 0 -33.13)" x="1857.0" y="946.5" font-size="21.2" font-weight="bold" text-anchor="middle">Total</text>
<path d="M1818.8 957H1895.2" stroke="#111" stroke-width="1.5" fill="none"/>
<text transform="matrix(1 0 0 1.035 0 -34.64)" x="1488.2" y="989.7" font-size="21.2" text-anchor="middle">Host Factor</text>
<text transform="matrix(1 0 0 1.035 0 -34.64)" x="1634.2" y="989.7" font-size="21.2" text-anchor="middle">46</text>
<text transform="matrix(1 0 0 1.035 0 -34.64)" x="1748.8" y="989.7" font-size="21.2" text-anchor="middle">40</text>
<text transform="matrix(1 0 0 1.035 0 -34.64)" x="1857.0" y="989.7" font-size="21.2" text-anchor="middle">86</text>
<text transform="matrix(1 0 0 1.035 0 -35.54)" x="1488.2" y="1015.4" font-size="21.2" text-anchor="middle">No Phenotype</text>
<text transform="matrix(1 0 0 1.035 0 -35.54)" x="1634.2" y="1015.4" font-size="21.2" text-anchor="middle">195</text>
<text transform="matrix(1 0 0 1.035 0 -35.54)" x="1748.8" y="1015.4" font-size="21.2" text-anchor="middle">72</text>
<text transform="matrix(1 0 0 1.035 0 -35.54)" x="1857.0" y="1015.4" font-size="21.2" text-anchor="middle">267</text>
<text transform="matrix(1 0 0 1.035 0 -36.44)" x="1488.2" y="1041.1" font-size="21.2" text-anchor="middle">Undetermined</text>
<text transform="matrix(1 0 0 1.035 0 -36.44)" x="1634.2" y="1041.1" font-size="21.2" text-anchor="middle">48</text>
<text transform="matrix(1 0 0 1.035 0 -36.44)" x="1748.8" y="1041.1" font-size="21.2" text-anchor="middle">29</text>
<text transform="matrix(1 0 0 1.035 0 -36.44)" x="1857.0" y="1041.1" font-size="21.2" text-anchor="middle">77</text>
<text transform="matrix(1 0 0 1.035 0 -37.80)" x="1488.2" y="1079.9" font-size="21.2" font-weight="bold" text-anchor="middle">Total</text>
<text transform="matrix(1 0 0 1.035 0 -37.80)" x="1634.2" y="1079.9" font-size="21.2" font-weight="bold" text-anchor="middle">289</text>
<text transform="matrix(1 0 0 1.035 0 -37.80)" x="1748.8" y="1079.9" font-size="21.2" font-weight="bold" text-anchor="middle">141</text>
<text transform="matrix(1 0 0 1.035 0 -37.80)" x="1857.0" y="1079.9" font-size="21.2" font-weight="bold" text-anchor="middle">430</text>
<rect x="1447.5" y="1103.8" width="445.3" height="44.5" fill="none" stroke="#111" stroke-width="2.2"/>
<text transform="matrix(1 0 0 1.035 0 -39.74)" x="1471.7" y="1135.3" font-size="21.2" font-weight="bold">Chi-square</text>
<text transform="matrix(1 0 0 1.035 0 -39.74)" x="1604.7" y="1135.3" font-size="21.2" font-weight="bold">11.82</text>
<text transform="matrix(1 0 0 1.035 0 -39.74)" x="1709.6" y="1135.3" font-size="21.2" font-weight="bold">p-value</text>
<text transform="matrix(1 0 0 1.035 0 -39.74)" x="1802.9" y="1135.3" font-size="21.2" font-weight="bold">0.0027</text>
<text transform="matrix(1 0 0 1.035 0 -43.33)" x="1312.5" y="1238.0" font-size="72">D</text>
<text transform="matrix(1 0 0 1.035 0 -44.55)" x="1451.6" y="1272.8" font-size="21.2">Adaptation</text>
<text transform="matrix(1 0 0 1.035 0 -45.70)" x="1342.0" y="1305.8" font-size="21.2">Pathogen</text>
<text transform="matrix(1 0 0 1.035 0 -49.09)" x="1341.6" y="1402.6" font-size="21.2">Antagonism</text>
<text transform="matrix(1 0 0 1.035 0 -52.08)" x="1473.6" y="1487.9" font-size="21.2">Host</text>
<text transform="matrix(1 0 0 1.035 0 -53.09)" x="1585.0" y="1517.0" font-size="21.2">Evolution</text>
<path d="M 1420.1 1311.9 C 1404.7 1311.9 1394.5 1323.8 1394.5 1338.3 C 1394.5 1353.6 1406.2 1364.0 1421.0 1364.0 C 1431.8 1364.0 1439.3 1363.3 1442.9 1359.0 C 1446.2 1354.5 1446.9 1346.4 1446.9 1338.3 C 1446.9 1322.9 1435.4 1311.9 1420.1 1311.9 Z" fill="#ffd35e" stroke="#111" stroke-width="2.3" stroke-linejoin="round"/>
<path d="M 1594.0 1307.1 C 1579.6 1307.1 1570.9 1317.9 1571.5 1331.9 C 1572.0 1346.4 1581.4 1352.7 1597.6 1358.1 C 1615.7 1364.0 1635.5 1368.5 1646.3 1368.5 C 1653.2 1368.5 1654.1 1365.3 1651.4 1360.8 C 1644.5 1348.2 1630.1 1328.3 1617.5 1315.7 C 1610.2 1309.8 1603.0 1307.1 1594.0 1307.1 Z" fill="#ffedc8" stroke="#111" stroke-width="2.3" stroke-linejoin="round"/>
<path d="M 1506.9 1386.4 L 1552.6 1386.4 C 1571.5 1386.4 1586.5 1401.3 1586.5 1420.3 L 1586.5 1431.1 C 1586.5 1450.4 1571.5 1465.3 1552.6 1465.3 L 1507.5 1465.3 C 1488.6 1465.3 1473.6 1450.4 1473.6 1431.1 L 1473.6 1420.6 L 1490.4 1420.6 C 1501.2 1420.6 1506.9 1415.8 1506.9 1405.0 Z" fill="#2f9229" stroke="#111" stroke-width="2.3" stroke-linejoin="round"/>
<path d="M 1705.1 1387.1 L 1752.5 1387.1 C 1770.5 1387.1 1784.6 1401.5 1784.6 1420.4 L 1784.6 1432.2 C 1784.6 1450.7 1770.5 1465.2 1752.5 1465.2 L 1704.7 1465.2 C 1686.3 1465.2 1672.1 1450.7 1672.1 1432.2 L 1672.1 1420.8 L 1717.3 1429.8 C 1728.2 1432.2 1733.6 1431.3 1732.5 1426.8 C 1731.4 1422.2 1721.0 1409.6 1705.1 1387.1 Z" fill="#bdd1a9" stroke="#111" stroke-width="2.3" stroke-linejoin="round"/>
<path d="M1461.9 1377.9L1481.9 1397.9M1486 1393.2L1477.4 1401.8" stroke="#111" stroke-width="2.3" fill="none"/>
<path d="M1662.7 1378.1L1681.9 1397.2M1686.3 1393L1677.7 1401.3" stroke="#111" stroke-width="2.3" fill="none"/>
<path d="M1461.9 1303.1Q1500.5 1270 1539.5 1297.2" stroke="#111" stroke-width="2.3" fill="none"/>
<path transform="translate(1545.6 1302.8) rotate(38.0)" d="M0 0L-12.0 -5.2L-9.4 0L-12.0 5.2Z" fill="#111"/>
<path d="M1582.7 1474.6Q1624 1505.5 1660 1480" stroke="#111" stroke-width="2.3" fill="none"/>
<path transform="translate(1666.3 1474.4) rotate(-38.0)" d="M0 0L-12.0 -5.2L-9.4 0L-12.0 5.2Z" fill="#111"/>
<path d="M1632.6 1302.9Q1672.6 1269.5 1710.6 1297.4" stroke="#111" stroke-width="2.3" fill="none"/>
<path transform="translate(1716.8 1302.8) rotate(38.0)" d="M0 0L-11.0 -4.8L-8.4 0L-11.0 4.8Z" fill="#111"/>
<path d="M1649.2 1302.9Q1689.2 1269.5 1727.2 1297.4" stroke="#111" stroke-width="2.3" fill="none"/>
<path transform="translate(1733.4 1302.8) rotate(38.0)" d="M0 0L-11.0 -4.8L-8.4 0L-11.0 4.8Z" fill="#111"/>
<path d="M1665.6 1302.9Q1705.6 1269.5 1743.6 1297.4" stroke="#111" stroke-width="2.3" fill="none"/>
<path transform="translate(1749.8 1302.8) rotate(38.0)" d="M0 0L-11.0 -4.8L-8.4 0L-11.0 4.8Z" fill="#111"/>
<path d="M1682.2 1302.9Q1722.2 1269.5 1760.2 1297.4" stroke="#111" stroke-width="2.3" fill="none"/>
<path transform="translate(1766.4 1302.8) rotate(38.0)" d="M0 0L-11.0 -4.8L-8.4 0L-11.0 4.8Z" fill="#111"/>
<path d="M1783.7 1474.5Q1826.7 1507 1861.2 1479.6" stroke="#111" stroke-width="2.3" fill="none"/>
<path transform="translate(1867.4 1474.4) rotate(-38.0)" d="M0 0L-11.0 -4.8L-8.4 0L-11.0 4.8Z" fill="#111"/>
<path d="M1799.4 1474.5Q1842.4 1507 1876.9 1479.6" stroke="#111" stroke-width="2.3" fill="none"/>
<path transform="translate(1883.1 1474.4) rotate(-38.0)" d="M0 0L-11.0 -4.8L-8.4 0L-11.0 4.8Z" fill="#111"/>
<path d="M1815.2 1474.5Q1858.2 1507 1892.7 1479.6" stroke="#111" stroke-width="2.3" fill="none"/>
<path transform="translate(1898.9 1474.4) rotate(-38.0)" d="M0 0L-11.0 -4.8L-8.4 0L-11.0 4.8Z" fill="#111"/>
<path d="M1830.9 1474.5Q1873.9 1507 1908.4 1479.6" stroke="#111" stroke-width="2.3" fill="none"/>
<path transform="translate(1914.6 1474.4) rotate(-38.0)" d="M0 0L-11.0 -4.8L-8.4 0L-11.0 4.8Z" fill="#111"/>
<rect x="1898.5" y="1312.3" width="11.2" height="81.1" fill="#6cb4e0"/>
<rect x="1974.2" y="1312.3" width="11.2" height="81.1" fill="#6cb4e0"/>
<text transform="translate(1827.3 1350.3) rotate(-90) scale(1 1.035)" font-size="18.2" text-anchor="middle" style="fill:#111">Species</text>
<text transform="matrix(1 0 0 1.035 0 -46.40)" x="1837.6" y="1325.8" font-size="17.2">A</text>
<text transform="matrix(1 0 0 0.88 0 159.10)" x="1855.5" y="1325.8" font-size="18" font-family="'Liberation Mono',monospace" stroke="#111" stroke-width="0.45" style="fill:#111">-KSTGGPLTWPDE</text>
<text transform="matrix(1 0 0 1.035 0 -47.16)" x="1837.6" y="1347.4" font-size="17.2">B</text>
<text transform="matrix(1 0 0 0.88 0 161.69)" x="1855.5" y="1347.4" font-size="18" font-family="'Liberation Mono',monospace" stroke="#111" stroke-width="0.45" style="fill:#111">-KSTQGPLSWPDE</text>
<text transform="matrix(1 0 0 1.035 0 -47.92)" x="1837.6" y="1369.1" font-size="17.2">C</text>
<text transform="matrix(1 0 0 0.88 0 164.29)" x="1855.5" y="1369.1" font-size="18" font-family="'Liberation Mono',monospace" stroke="#111" stroke-width="0.45" style="fill:#111">-KSTQGPLTWPRE</text>
<text transform="matrix(1 0 0 1.035 0 -48.67)" x="1837.6" y="1390.7" font-size="17.2">D</text>
<text transform="matrix(1 0 0 0.88 0 166.88)" x="1855.5" y="1390.7" font-size="18" font-family="'Liberation Mono',monospace" stroke="#111" stroke-width="0.45" style="fill:#111">-KSTQGPLTWPRE</text>
<text transform="matrix(1 0 0 1.035 0 -49.97)" x="1913.4" y="1427.7" font-size="21.3" text-anchor="middle">Positive Selection</text>
<text transform="matrix(1 0 0 1.035 0 -50.88)" x="1913.4" y="1453.8" font-size="21.3" text-anchor="middle">(dN/dS &gt; 1)</text>
<text transform="matrix(1 0 0 1.035 0 -54.95)" x="1393.9" y="1570.1" font-size="21.3" font-weight="bold" text-anchor="middle">Gene</text>
<path d="M1367.3 1580.6H1423.4" stroke="#111" stroke-width="1.5" fill="none"/>
<text transform="matrix(1 0 0 1.035 0 -54.95)" x="1540.1" y="1570.1" font-size="21.3" font-weight="bold" text-anchor="middle">Phenotype</text>
<path d="M1482.3 1580.6H1597.9" stroke="#111" stroke-width="1.5" fill="none"/>
<text transform="matrix(1 0 0 1.035 0 -54.95)" x="1661.0" y="1570.1" font-size="21.3" font-weight="bold" text-anchor="middle">p-value</text>
<path d="M1623.2 1580.6H1699.6" stroke="#111" stroke-width="1.5" fill="none"/>
<text transform="matrix(1 0 0 1.035 0 -54.95)" x="1759.2" y="1570.1" font-size="21.3" font-weight="bold" text-anchor="middle">dN/dS</text>
<path d="M1728.3 1580.6H1790.7" stroke="#111" stroke-width="1.5" fill="none"/>
<text transform="matrix(1 0 0 1.035 0 -54.95)" x="1851.7" y="1570.1" font-size="21.3" font-weight="bold" text-anchor="middle"># Sites</text>
<path d="M1814.5 1580.6H1888.2" stroke="#111" stroke-width="1.5" fill="none"/>
<text transform="matrix(1 0 0 1.035 0 -54.95)" x="1956.5" y="1570.1" font-size="21.3" font-weight="bold" text-anchor="middle">Known?</text>
<path d="M1915.1 1580.6H2001.0" stroke="#111" stroke-width="1.5" fill="none"/>
<text transform="matrix(1 0 0 1.035 0 -56.36)" x="1393.9" y="1610.4" font-size="21.3" text-anchor="middle" style="fill:#4040a6">PARP4</text>
<text transform="matrix(1 0 0 1.035 0 -56.36)" x="1540.1" y="1610.4" font-size="21.3" text-anchor="middle">dependency</text>
<text transform="matrix(1 0 0 1.035 0 -56.36)" x="1661.0" y="1610.4" font-size="21.3" text-anchor="middle">1E-23</text>
<text transform="matrix(1 0 0 1.035 0 -56.36)" x="1759.2" y="1610.4" font-size="21.3" text-anchor="middle">5.42</text>
<text transform="matrix(1 0 0 1.035 0 -56.36)" x="1851.7" y="1610.4" font-size="21.3" text-anchor="middle">28</text>
<text transform="matrix(1 0 0 1.035 0 -56.36)" x="1956.5" y="1610.4" font-size="21.3" text-anchor="middle">yes</text>
<text transform="matrix(1 0 0 1.035 0 -57.26)" x="1393.9" y="1636.1" font-size="21.3" text-anchor="middle" style="fill:#c0271d">EIF2AK2/PKR</text>
<text transform="matrix(1 0 0 1.035 0 -57.26)" x="1540.1" y="1636.1" font-size="21.3" text-anchor="middle">restriction</text>
<text transform="matrix(1 0 0 1.035 0 -57.26)" x="1661.0" y="1636.1" font-size="21.3" text-anchor="middle">9E-21</text>
<text transform="matrix(1 0 0 1.035 0 -57.26)" x="1759.2" y="1636.1" font-size="21.3" text-anchor="middle">3.78</text>
<text transform="matrix(1 0 0 1.035 0 -57.26)" x="1851.7" y="1636.1" font-size="21.3" text-anchor="middle">29</text>
<text transform="matrix(1 0 0 1.035 0 -57.26)" x="1956.5" y="1636.1" font-size="21.3" text-anchor="middle">yes</text>
<text transform="matrix(1 0 0 1.035 0 -58.16)" x="1393.9" y="1661.8" font-size="21.3" text-anchor="middle" style="fill:#4040a6">CD4</text>
<text transform="matrix(1 0 0 1.035 0 -58.16)" x="1540.1" y="1661.8" font-size="21.3" text-anchor="middle">dependency</text>
<text transform="matrix(1 0 0 1.035 0 -58.16)" x="1661.0" y="1661.8" font-size="21.3" text-anchor="middle">1E-9</text>
<text transform="matrix(1 0 0 1.035 0 -58.16)" x="1759.2" y="1661.8" font-size="21.3" text-anchor="middle">3.85</text>
<text transform="matrix(1 0 0 1.035 0 -58.16)" x="1851.7" y="1661.8" font-size="21.3" text-anchor="middle">12</text>
<text transform="matrix(1 0 0 1.035 0 -58.16)" x="1956.5" y="1661.8" font-size="21.3" text-anchor="middle">yes</text>
<text transform="matrix(1 0 0 1.035 0 -59.06)" x="1393.9" y="1687.6" font-size="21.3" text-anchor="middle" style="fill:#c0271d">NCOR1</text>
<text transform="matrix(1 0 0 1.035 0 -59.06)" x="1540.1" y="1687.6" font-size="21.3" text-anchor="middle">restriction</text>
<text transform="matrix(1 0 0 1.035 0 -59.06)" x="1661.0" y="1687.6" font-size="21.3" text-anchor="middle">0.0002</text>
<text transform="matrix(1 0 0 1.035 0 -59.06)" x="1759.2" y="1687.6" font-size="21.3" text-anchor="middle">16.28</text>
<text transform="matrix(1 0 0 1.035 0 -59.06)" x="1851.7" y="1687.6" font-size="21.3" text-anchor="middle">5</text>
<text transform="matrix(1 0 0 1.035 0 -59.06)" x="1956.5" y="1687.6" font-size="21.3" text-anchor="middle">no</text>
<text transform="matrix(1 0 0 1.035 0 -59.96)" x="1393.9" y="1713.3" font-size="21.3" text-anchor="middle" style="fill:#4040a6">AFF1</text>
<text transform="matrix(1 0 0 1.035 0 -59.96)" x="1540.1" y="1713.3" font-size="21.3" text-anchor="middle">dependency</text>
<text transform="matrix(1 0 0 1.035 0 -59.96)" x="1661.0" y="1713.3" font-size="21.3" text-anchor="middle">0.005</text>
<text transform="matrix(1 0 0 1.035 0 -59.96)" x="1759.2" y="1713.3" font-size="21.3" text-anchor="middle">5.38</text>
<text transform="matrix(1 0 0 1.035 0 -59.96)" x="1851.7" y="1713.3" font-size="21.3" text-anchor="middle">3</text>
<text transform="matrix(1 0 0 1.035 0 -59.96)" x="1956.5" y="1713.3" font-size="21.3" text-anchor="middle">no</text>
<text transform="matrix(1 0 0 1.035 0 -60.86)" x="1393.9" y="1739.0" font-size="21.3" text-anchor="middle" style="fill:#4040a6">NUDC</text>
<text transform="matrix(1 0 0 1.035 0 -60.86)" x="1540.1" y="1739.0" font-size="21.3" text-anchor="middle">dependency</text>
<text transform="matrix(1 0 0 1.035 0 -60.86)" x="1661.0" y="1739.0" font-size="21.3" text-anchor="middle">0.006</text>
<text transform="matrix(1 0 0 1.035 0 -60.86)" x="1759.2" y="1739.0" font-size="21.3" text-anchor="middle">15.57</text>
<text transform="matrix(1 0 0 1.035 0 -60.86)" x="1851.7" y="1739.0" font-size="21.3" text-anchor="middle">1</text>
<text transform="matrix(1 0 0 1.035 0 -60.86)" x="1956.5" y="1739.0" font-size="21.3" text-anchor="middle">no</text>
<text transform="matrix(1 0 0 1.035 0 -61.77)" x="1393.9" y="1764.7" font-size="21.3" text-anchor="middle" style="fill:#4040a6">NCAPD3</text>
<text transform="matrix(1 0 0 1.035 0 -61.77)" x="1540.1" y="1764.7" font-size="21.3" text-anchor="middle">dependency</text>
<text transform="matrix(1 0 0 1.035 0 -61.77)" x="1661.0" y="1764.7" font-size="21.3" text-anchor="middle">0.008</text>
<text transform="matrix(1 0 0 1.035 0 -61.77)" x="1759.2" y="1764.7" font-size="21.3" text-anchor="middle">3.47</text>
<text transform="matrix(1 0 0 1.035 0 -61.77)" x="1851.7" y="1764.7" font-size="21.3" text-anchor="middle">7</text>
<text transform="matrix(1 0 0 1.035 0 -61.77)" x="1956.5" y="1764.7" font-size="21.3" text-anchor="middle">no</text>
<text transform="matrix(1 0 0 1.035 0 -62.67)" x="1393.9" y="1790.4" font-size="21.3" text-anchor="middle" style="fill:#c0271d">SDCCAG8</text>
<text transform="matrix(1 0 0 1.035 0 -62.67)" x="1540.1" y="1790.4" font-size="21.3" text-anchor="middle">restriction</text>
<text transform="matrix(1 0 0 1.035 0 -62.67)" x="1661.0" y="1790.4" font-size="21.3" text-anchor="middle">0.009</text>
<text transform="matrix(1 0 0 1.035 0 -62.67)" x="1759.2" y="1790.4" font-size="21.3" text-anchor="middle">2.86</text>
<text transform="matrix(1 0 0 1.035 0 -62.67)" x="1851.7" y="1790.4" font-size="21.3" text-anchor="middle">5</text>
<text transform="matrix(1 0 0 1.035 0 -62.67)" x="1956.5" y="1790.4" font-size="21.3" text-anchor="middle">no</text>
<text transform="matrix(1 0 0 1.035 0 -63.57)" x="1393.9" y="1816.2" font-size="21.3" text-anchor="middle" style="fill:#c0271d">RANBP2</text>
<text transform="matrix(1 0 0 1.035 0 -63.57)" x="1540.1" y="1816.2" font-size="21.3" text-anchor="middle">restriction</text>
<text transform="matrix(1 0 0 1.035 0 -63.57)" x="1661.0" y="1816.2" font-size="21.3" text-anchor="middle">0.01</text>
<text transform="matrix(1 0 0 1.035 0 -63.57)" x="1759.2" y="1816.2" font-size="21.3" text-anchor="middle">1.87</text>
<text transform="matrix(1 0 0 1.035 0 -63.57)" x="1851.7" y="1816.2" font-size="21.3" text-anchor="middle">6</text>
<text transform="matrix(1 0 0 1.035 0 -63.57)" x="1956.5" y="1816.2" font-size="21.3" text-anchor="middle">yes</text>
</svg>
</body></html>
